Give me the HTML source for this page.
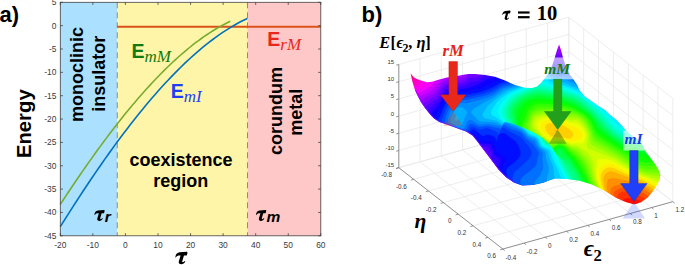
<!DOCTYPE html>
<html><head><meta charset="utf-8"><style>
html,body{margin:0;padding:0;background:#fff;overflow:hidden}
svg{display:block}
text{font-family:"Liberation Sans",sans-serif}
.sf{font-family:"Liberation Serif",serif}
</style></head><body>
<svg width="685" height="265" viewBox="0 0 685 265">
<rect width="685" height="265" fill="#fff"/>
<rect x="60.3" y="2.3" width="56.98" height="233.50" fill="#abe0fe"/>
<rect x="117.28" y="2.3" width="130.25" height="233.50" fill="#fff5a8"/>
<rect x="247.53" y="2.3" width="73.27" height="233.50" fill="#ffc8c8"/>
<line x1="117.28" y1="2.3" x2="117.28" y2="235.8" stroke="#8a8a8a" stroke-width="1" stroke-dasharray="6,4"/>
<line x1="247.53" y1="2.3" x2="247.53" y2="235.8" stroke="#8a8a8a" stroke-width="1" stroke-dasharray="6,4"/>
<line x1="117.28" y1="26.8" x2="320.8" y2="26.8" stroke="#d95319" stroke-width="2"/>
<path d="M60.30,204.36 L63.18,199.97 L66.06,195.61 L68.94,191.28 L71.82,186.98 L74.70,182.72 L77.58,178.48 L80.46,174.28 L83.34,170.12 L86.22,165.99 L89.10,161.90 L91.98,157.84 L94.86,153.82 L97.74,149.84 L100.62,145.90 L103.49,142.00 L106.37,138.14 L109.25,134.32 L112.13,130.54 L115.01,126.81 L117.89,123.12 L120.77,119.47 L123.65,115.87 L126.53,112.31 L129.41,108.81 L132.29,105.35 L135.17,101.93 L138.05,98.57 L140.93,95.25 L143.81,91.99 L146.69,88.78 L149.57,85.62 L152.45,82.51 L155.33,79.45 L158.21,76.45 L161.09,73.51 L163.97,70.62 L166.85,67.79 L169.73,65.01 L172.61,62.29 L175.49,59.63 L178.37,57.03 L181.25,54.50 L184.13,52.02 L187.01,49.60 L189.88,47.25 L192.76,44.96 L195.64,42.73 L198.52,40.57 L201.40,38.48 L204.28,36.45 L207.16,34.49 L210.04,32.59 L212.92,30.77 L215.80,29.01 L218.68,27.33 L221.56,25.71 L224.44,24.17 L227.32,22.70 L230.20,21.30" fill="none" stroke="#77ac30" stroke-width="1.6"/>
<path d="M60.30,226.65 L63.47,221.58 L66.64,216.56 L69.81,211.57 L72.98,206.62 L76.15,201.70 L79.32,196.83 L82.49,192.00 L85.66,187.21 L88.83,182.47 L91.99,177.76 L95.16,173.11 L98.33,168.49 L101.50,163.93 L104.67,159.41 L107.84,154.93 L111.01,150.51 L114.18,146.14 L117.35,141.81 L120.52,137.54 L123.69,133.32 L126.86,129.15 L130.03,125.04 L133.20,120.98 L136.37,116.97 L139.54,113.03 L142.71,109.14 L145.88,105.30 L149.05,101.53 L152.22,97.82 L155.38,94.16 L158.55,90.57 L161.72,87.04 L164.89,83.58 L168.06,80.18 L171.23,76.84 L174.40,73.57 L177.57,70.36 L180.74,67.22 L183.91,64.16 L187.08,61.16 L190.25,58.23 L193.42,55.37 L196.59,52.58 L199.76,49.86 L202.93,47.22 L206.10,44.65 L209.27,42.16 L212.44,39.75 L215.61,37.41 L218.77,35.14 L221.94,32.96 L225.11,30.86 L228.28,28.83 L231.45,26.89 L234.62,25.03 L237.79,23.25 L240.96,21.56 L244.13,19.95 L247.30,18.42" fill="none" stroke="#0072bd" stroke-width="1.6"/>
<rect x="60.3" y="2.3" width="260.50" height="233.50" fill="none" stroke="#404040" stroke-width="0.8"/>
<line x1="60.30" y1="235.8" x2="60.30" y2="233.20000000000002" stroke="#404040" stroke-width="0.8"/>
<line x1="60.30" y1="2.3" x2="60.30" y2="4.9" stroke="#404040" stroke-width="0.8"/>
<text x="60.30" y="248" font-size="8.4" text-anchor="middle" fill="#3a3a3a">-20</text>
<line x1="92.86" y1="235.8" x2="92.86" y2="233.20000000000002" stroke="#404040" stroke-width="0.8"/>
<line x1="92.86" y1="2.3" x2="92.86" y2="4.9" stroke="#404040" stroke-width="0.8"/>
<text x="92.86" y="248" font-size="8.4" text-anchor="middle" fill="#3a3a3a">-10</text>
<line x1="125.42" y1="235.8" x2="125.42" y2="233.20000000000002" stroke="#404040" stroke-width="0.8"/>
<line x1="125.42" y1="2.3" x2="125.42" y2="4.9" stroke="#404040" stroke-width="0.8"/>
<text x="125.42" y="248" font-size="8.4" text-anchor="middle" fill="#3a3a3a">0</text>
<line x1="157.99" y1="235.8" x2="157.99" y2="233.20000000000002" stroke="#404040" stroke-width="0.8"/>
<line x1="157.99" y1="2.3" x2="157.99" y2="4.9" stroke="#404040" stroke-width="0.8"/>
<text x="157.99" y="248" font-size="8.4" text-anchor="middle" fill="#3a3a3a">10</text>
<line x1="190.55" y1="235.8" x2="190.55" y2="233.20000000000002" stroke="#404040" stroke-width="0.8"/>
<line x1="190.55" y1="2.3" x2="190.55" y2="4.9" stroke="#404040" stroke-width="0.8"/>
<text x="190.55" y="248" font-size="8.4" text-anchor="middle" fill="#3a3a3a">20</text>
<line x1="223.11" y1="235.8" x2="223.11" y2="233.20000000000002" stroke="#404040" stroke-width="0.8"/>
<line x1="223.11" y1="2.3" x2="223.11" y2="4.9" stroke="#404040" stroke-width="0.8"/>
<text x="223.11" y="248" font-size="8.4" text-anchor="middle" fill="#3a3a3a">30</text>
<line x1="255.68" y1="235.8" x2="255.68" y2="233.20000000000002" stroke="#404040" stroke-width="0.8"/>
<line x1="255.68" y1="2.3" x2="255.68" y2="4.9" stroke="#404040" stroke-width="0.8"/>
<text x="255.68" y="248" font-size="8.4" text-anchor="middle" fill="#3a3a3a">40</text>
<line x1="288.24" y1="235.8" x2="288.24" y2="233.20000000000002" stroke="#404040" stroke-width="0.8"/>
<line x1="288.24" y1="2.3" x2="288.24" y2="4.9" stroke="#404040" stroke-width="0.8"/>
<text x="288.24" y="248" font-size="8.4" text-anchor="middle" fill="#3a3a3a">50</text>
<line x1="320.80" y1="235.8" x2="320.80" y2="233.20000000000002" stroke="#404040" stroke-width="0.8"/>
<line x1="320.80" y1="2.3" x2="320.80" y2="4.9" stroke="#404040" stroke-width="0.8"/>
<text x="320.80" y="248" font-size="8.4" text-anchor="middle" fill="#3a3a3a">60</text>
<line x1="60.3" y1="2.30" x2="62.9" y2="2.30" stroke="#404040" stroke-width="0.8"/>
<line x1="320.8" y1="2.30" x2="318.2" y2="2.30" stroke="#404040" stroke-width="0.8"/>
<text x="56.4" y="5.30" font-size="8.4" text-anchor="end" fill="#3a3a3a">5</text>
<line x1="60.3" y1="25.65" x2="62.9" y2="25.65" stroke="#404040" stroke-width="0.8"/>
<line x1="320.8" y1="25.65" x2="318.2" y2="25.65" stroke="#404040" stroke-width="0.8"/>
<text x="56.4" y="28.65" font-size="8.4" text-anchor="end" fill="#3a3a3a">0</text>
<line x1="60.3" y1="49.00" x2="62.9" y2="49.00" stroke="#404040" stroke-width="0.8"/>
<line x1="320.8" y1="49.00" x2="318.2" y2="49.00" stroke="#404040" stroke-width="0.8"/>
<text x="56.4" y="52.00" font-size="8.4" text-anchor="end" fill="#3a3a3a">-5</text>
<line x1="60.3" y1="72.35" x2="62.9" y2="72.35" stroke="#404040" stroke-width="0.8"/>
<line x1="320.8" y1="72.35" x2="318.2" y2="72.35" stroke="#404040" stroke-width="0.8"/>
<text x="56.4" y="75.35" font-size="8.4" text-anchor="end" fill="#3a3a3a">-10</text>
<line x1="60.3" y1="95.70" x2="62.9" y2="95.70" stroke="#404040" stroke-width="0.8"/>
<line x1="320.8" y1="95.70" x2="318.2" y2="95.70" stroke="#404040" stroke-width="0.8"/>
<text x="56.4" y="98.70" font-size="8.4" text-anchor="end" fill="#3a3a3a">-15</text>
<line x1="60.3" y1="119.05" x2="62.9" y2="119.05" stroke="#404040" stroke-width="0.8"/>
<line x1="320.8" y1="119.05" x2="318.2" y2="119.05" stroke="#404040" stroke-width="0.8"/>
<text x="56.4" y="122.05" font-size="8.4" text-anchor="end" fill="#3a3a3a">-20</text>
<line x1="60.3" y1="142.40" x2="62.9" y2="142.40" stroke="#404040" stroke-width="0.8"/>
<line x1="320.8" y1="142.40" x2="318.2" y2="142.40" stroke="#404040" stroke-width="0.8"/>
<text x="56.4" y="145.40" font-size="8.4" text-anchor="end" fill="#3a3a3a">-25</text>
<line x1="60.3" y1="165.75" x2="62.9" y2="165.75" stroke="#404040" stroke-width="0.8"/>
<line x1="320.8" y1="165.75" x2="318.2" y2="165.75" stroke="#404040" stroke-width="0.8"/>
<text x="56.4" y="168.75" font-size="8.4" text-anchor="end" fill="#3a3a3a">-30</text>
<line x1="60.3" y1="189.10" x2="62.9" y2="189.10" stroke="#404040" stroke-width="0.8"/>
<line x1="320.8" y1="189.10" x2="318.2" y2="189.10" stroke="#404040" stroke-width="0.8"/>
<text x="56.4" y="192.10" font-size="8.4" text-anchor="end" fill="#3a3a3a">-35</text>
<line x1="60.3" y1="212.45" x2="62.9" y2="212.45" stroke="#404040" stroke-width="0.8"/>
<line x1="320.8" y1="212.45" x2="318.2" y2="212.45" stroke="#404040" stroke-width="0.8"/>
<text x="56.4" y="215.45" font-size="8.4" text-anchor="end" fill="#3a3a3a">-40</text>
<line x1="60.3" y1="235.80" x2="62.9" y2="235.80" stroke="#404040" stroke-width="0.8"/>
<line x1="320.8" y1="235.80" x2="318.2" y2="235.80" stroke="#404040" stroke-width="0.8"/>
<text x="56.4" y="238.80" font-size="8.4" text-anchor="end" fill="#3a3a3a">-45</text>
<text x="-0.5" y="21.8" font-size="22" font-weight="bold">a)</text>
<text transform="translate(31,123.7) rotate(-90)" font-size="20.3" font-weight="bold" text-anchor="middle">Energy</text>
<text transform="translate(83.2,74.6) rotate(-90)" font-size="18" font-weight="bold" text-anchor="middle">monoclinic</text>
<text transform="translate(104.6,73.8) rotate(-90)" font-size="18" font-weight="bold" text-anchor="middle">insulator</text>
<text x="181" y="165.7" font-size="18" font-weight="bold" text-anchor="middle">coexistence</text>
<text x="180.8" y="187.2" font-size="18" font-weight="bold" text-anchor="middle">region</text>
<text transform="translate(282,111.1) rotate(-90)" font-size="18" font-weight="bold" text-anchor="middle">corundum</text>
<text transform="translate(301.8,112.2) rotate(-90)" font-size="18" font-weight="bold" text-anchor="middle">metal</text>
<text x="131.5" y="58.1" font-size="19.5" font-weight="bold" fill="#107a10">E<tspan class="sf" font-style="italic" font-weight="normal" font-size="17" dy="4">mM</tspan></text>
<text x="170.7" y="97.6" font-size="19.5" font-weight="bold" fill="#1f3ff5">E<tspan class="sf" font-style="italic" font-weight="normal" font-size="17" dy="4">mI</tspan></text>
<text x="267.3" y="46" font-size="19.5" font-weight="bold" fill="#e8261c">E<tspan class="sf" font-style="italic" font-weight="normal" font-size="17" dy="4">rM</tspan></text>
<path transform="translate(94.20,209.90) scale(0.8400,0.8800) translate(-175.1,-251.7)" d="M175.3,257.2 C175.6,254.5 177.0,252.6 179.5,252.3 L186.6,251.8 C187.4,251.8 187.6,252.4 187.4,253.2 L187.0,254.8 C186.9,255.4 186.5,255.6 185.9,255.6 L184.0,255.6 L182.3,261.0 C182.1,261.8 182.3,262.2 182.9,262.2 C183.6,262.2 184.2,261.7 184.7,261.0 L185.3,261.4 C184.4,263.2 183.0,264.2 181.3,264.2 C179.4,264.2 178.4,263.2 178.8,261.6 L180.6,255.6 L179.6,255.6 C177.8,255.6 176.6,256.2 175.9,257.6 Z" fill="#000"/>
<text x="104.8" y="222.4" font-style="italic" font-weight="bold" font-size="15.5">r</text>
<path transform="translate(255.80,209.90) scale(0.8400,0.8800) translate(-175.1,-251.7)" d="M175.3,257.2 C175.6,254.5 177.0,252.6 179.5,252.3 L186.6,251.8 C187.4,251.8 187.6,252.4 187.4,253.2 L187.0,254.8 C186.9,255.4 186.5,255.6 185.9,255.6 L184.0,255.6 L182.3,261.0 C182.1,261.8 182.3,262.2 182.9,262.2 C183.6,262.2 184.2,261.7 184.7,261.0 L185.3,261.4 C184.4,263.2 183.0,264.2 181.3,264.2 C179.4,264.2 178.4,263.2 178.8,261.6 L180.6,255.6 L179.6,255.6 C177.8,255.6 176.6,256.2 175.9,257.6 Z" fill="#000"/>
<text x="266.4" y="222.4" font-style="italic" font-weight="bold" font-size="15.5">m</text>
<path transform="translate(175.10,251.70) scale(1.0000,1.0000) translate(-175.1,-251.7)" d="M175.3,257.2 C175.6,254.5 177.0,252.6 179.5,252.3 L186.6,251.8 C187.4,251.8 187.6,252.4 187.4,253.2 L187.0,254.8 C186.9,255.4 186.5,255.6 185.9,255.6 L184.0,255.6 L182.3,261.0 C182.1,261.8 182.3,262.2 182.9,262.2 C183.6,262.2 184.2,261.7 184.7,261.0 L185.3,261.4 C184.4,263.2 183.0,264.2 181.3,264.2 C179.4,264.2 178.4,263.2 178.8,261.6 L180.6,255.6 L179.6,255.6 C177.8,255.6 176.6,256.2 175.9,257.6 Z" fill="#000"/>
<line x1="398.80" y1="167.70" x2="502.82" y2="249.04" stroke="#e8e8e8" stroke-width="0.8"/>
<line x1="420.05" y1="161.78" x2="524.07" y2="243.12" stroke="#e8e8e8" stroke-width="0.8"/>
<line x1="441.30" y1="155.86" x2="545.32" y2="237.20" stroke="#e8e8e8" stroke-width="0.8"/>
<line x1="462.55" y1="149.94" x2="566.57" y2="231.28" stroke="#e8e8e8" stroke-width="0.8"/>
<line x1="483.80" y1="144.02" x2="587.82" y2="225.36" stroke="#e8e8e8" stroke-width="0.8"/>
<line x1="505.05" y1="138.10" x2="609.07" y2="219.44" stroke="#e8e8e8" stroke-width="0.8"/>
<line x1="526.30" y1="132.18" x2="630.32" y2="213.52" stroke="#e8e8e8" stroke-width="0.8"/>
<line x1="547.55" y1="126.26" x2="651.57" y2="207.60" stroke="#e8e8e8" stroke-width="0.8"/>
<line x1="568.80" y1="120.34" x2="672.82" y2="201.68" stroke="#e8e8e8" stroke-width="0.8"/>
<line x1="398.80" y1="167.70" x2="568.80" y2="120.34" stroke="#e8e8e8" stroke-width="0.8"/>
<line x1="413.66" y1="179.32" x2="583.66" y2="131.96" stroke="#e8e8e8" stroke-width="0.8"/>
<line x1="428.52" y1="190.94" x2="598.52" y2="143.58" stroke="#e8e8e8" stroke-width="0.8"/>
<line x1="443.38" y1="202.56" x2="613.38" y2="155.20" stroke="#e8e8e8" stroke-width="0.8"/>
<line x1="458.24" y1="214.18" x2="628.24" y2="166.82" stroke="#e8e8e8" stroke-width="0.8"/>
<line x1="473.10" y1="225.80" x2="643.10" y2="178.44" stroke="#e8e8e8" stroke-width="0.8"/>
<line x1="487.96" y1="237.42" x2="657.96" y2="190.06" stroke="#e8e8e8" stroke-width="0.8"/>
<line x1="502.82" y1="249.04" x2="672.82" y2="201.68" stroke="#e8e8e8" stroke-width="0.8"/>
<line x1="398.80" y1="167.70" x2="398.80" y2="64.50" stroke="#e8e8e8" stroke-width="0.8"/>
<line x1="420.05" y1="161.78" x2="420.05" y2="58.58" stroke="#e8e8e8" stroke-width="0.8"/>
<line x1="441.30" y1="155.86" x2="441.30" y2="52.66" stroke="#e8e8e8" stroke-width="0.8"/>
<line x1="462.55" y1="149.94" x2="462.55" y2="46.74" stroke="#e8e8e8" stroke-width="0.8"/>
<line x1="483.80" y1="144.02" x2="483.80" y2="40.82" stroke="#e8e8e8" stroke-width="0.8"/>
<line x1="505.05" y1="138.10" x2="505.05" y2="34.90" stroke="#e8e8e8" stroke-width="0.8"/>
<line x1="526.30" y1="132.18" x2="526.30" y2="28.98" stroke="#e8e8e8" stroke-width="0.8"/>
<line x1="547.55" y1="126.26" x2="547.55" y2="23.06" stroke="#e8e8e8" stroke-width="0.8"/>
<line x1="568.80" y1="120.34" x2="568.80" y2="17.14" stroke="#e8e8e8" stroke-width="0.8"/>
<line x1="398.80" y1="167.70" x2="568.80" y2="120.34" stroke="#e8e8e8" stroke-width="0.8"/>
<line x1="398.80" y1="150.50" x2="568.80" y2="103.14" stroke="#e8e8e8" stroke-width="0.8"/>
<line x1="398.80" y1="133.30" x2="568.80" y2="85.94" stroke="#e8e8e8" stroke-width="0.8"/>
<line x1="398.80" y1="116.10" x2="568.80" y2="68.74" stroke="#e8e8e8" stroke-width="0.8"/>
<line x1="398.80" y1="98.90" x2="568.80" y2="51.54" stroke="#e8e8e8" stroke-width="0.8"/>
<line x1="398.80" y1="81.70" x2="568.80" y2="34.34" stroke="#e8e8e8" stroke-width="0.8"/>
<line x1="398.80" y1="64.50" x2="568.80" y2="17.14" stroke="#e8e8e8" stroke-width="0.8"/>
<line x1="568.80" y1="120.34" x2="568.80" y2="17.14" stroke="#e8e8e8" stroke-width="0.8"/>
<line x1="583.66" y1="131.96" x2="583.66" y2="28.76" stroke="#e8e8e8" stroke-width="0.8"/>
<line x1="598.52" y1="143.58" x2="598.52" y2="40.38" stroke="#e8e8e8" stroke-width="0.8"/>
<line x1="613.38" y1="155.20" x2="613.38" y2="52.00" stroke="#e8e8e8" stroke-width="0.8"/>
<line x1="628.24" y1="166.82" x2="628.24" y2="63.62" stroke="#e8e8e8" stroke-width="0.8"/>
<line x1="643.10" y1="178.44" x2="643.10" y2="75.24" stroke="#e8e8e8" stroke-width="0.8"/>
<line x1="657.96" y1="190.06" x2="657.96" y2="86.86" stroke="#e8e8e8" stroke-width="0.8"/>
<line x1="672.82" y1="201.68" x2="672.82" y2="98.48" stroke="#e8e8e8" stroke-width="0.8"/>
<line x1="568.80" y1="120.34" x2="672.82" y2="201.68" stroke="#e8e8e8" stroke-width="0.8"/>
<line x1="568.80" y1="103.14" x2="672.82" y2="184.48" stroke="#e8e8e8" stroke-width="0.8"/>
<line x1="568.80" y1="85.94" x2="672.82" y2="167.28" stroke="#e8e8e8" stroke-width="0.8"/>
<line x1="568.80" y1="68.74" x2="672.82" y2="150.08" stroke="#e8e8e8" stroke-width="0.8"/>
<line x1="568.80" y1="51.54" x2="672.82" y2="132.88" stroke="#e8e8e8" stroke-width="0.8"/>
<line x1="568.80" y1="34.34" x2="672.82" y2="115.68" stroke="#e8e8e8" stroke-width="0.8"/>
<line x1="568.80" y1="17.14" x2="672.82" y2="98.48" stroke="#e8e8e8" stroke-width="0.8"/>
<line x1="398.80" y1="167.70" x2="398.80" y2="64.50" stroke="#6a6a6a" stroke-width="0.7"/>
<line x1="398.80" y1="167.70" x2="502.82" y2="249.04" stroke="#6a6a6a" stroke-width="0.7"/>
<line x1="502.82" y1="249.04" x2="672.82" y2="201.68" stroke="#6a6a6a" stroke-width="0.7"/>
<line x1="398.80" y1="167.70" x2="396.20" y2="168.40" stroke="#6a6a6a" stroke-width="0.7"/>
<text x="394.20" y="167.10" font-size="6" text-anchor="end" fill="#333">-15</text>
<line x1="398.80" y1="150.50" x2="396.20" y2="151.20" stroke="#6a6a6a" stroke-width="0.7"/>
<text x="394.20" y="149.90" font-size="6" text-anchor="end" fill="#333">-10</text>
<line x1="398.80" y1="133.30" x2="396.20" y2="134.00" stroke="#6a6a6a" stroke-width="0.7"/>
<text x="394.20" y="132.70" font-size="6" text-anchor="end" fill="#333">-5</text>
<line x1="398.80" y1="116.10" x2="396.20" y2="116.80" stroke="#6a6a6a" stroke-width="0.7"/>
<text x="394.20" y="115.50" font-size="6" text-anchor="end" fill="#333">0</text>
<line x1="398.80" y1="98.90" x2="396.20" y2="99.60" stroke="#6a6a6a" stroke-width="0.7"/>
<text x="394.20" y="98.30" font-size="6" text-anchor="end" fill="#333">5</text>
<line x1="398.80" y1="81.70" x2="396.20" y2="82.40" stroke="#6a6a6a" stroke-width="0.7"/>
<text x="394.20" y="81.10" font-size="6" text-anchor="end" fill="#333">10</text>
<line x1="398.80" y1="64.50" x2="396.20" y2="65.20" stroke="#6a6a6a" stroke-width="0.7"/>
<text x="394.20" y="63.90" font-size="6" text-anchor="end" fill="#333">15</text>
<line x1="398.80" y1="167.70" x2="396.10" y2="168.45" stroke="#6a6a6a" stroke-width="0.7"/>
<text x="392.00" y="177.00" font-size="6.3" text-anchor="end" fill="#333">-0.8</text>
<line x1="413.66" y1="179.32" x2="410.96" y2="180.07" stroke="#6a6a6a" stroke-width="0.7"/>
<text x="406.86" y="188.62" font-size="6.3" text-anchor="end" fill="#333">-0.6</text>
<line x1="428.52" y1="190.94" x2="425.82" y2="191.69" stroke="#6a6a6a" stroke-width="0.7"/>
<text x="421.72" y="200.24" font-size="6.3" text-anchor="end" fill="#333">-0.4</text>
<line x1="443.38" y1="202.56" x2="440.68" y2="203.31" stroke="#6a6a6a" stroke-width="0.7"/>
<text x="436.58" y="211.86" font-size="6.3" text-anchor="end" fill="#333">-0.2</text>
<line x1="458.24" y1="214.18" x2="455.54" y2="214.93" stroke="#6a6a6a" stroke-width="0.7"/>
<text x="451.44" y="223.48" font-size="6.3" text-anchor="end" fill="#333">0</text>
<line x1="473.10" y1="225.80" x2="470.40" y2="226.55" stroke="#6a6a6a" stroke-width="0.7"/>
<text x="466.30" y="235.10" font-size="6.3" text-anchor="end" fill="#333">0.2</text>
<line x1="487.96" y1="237.42" x2="485.26" y2="238.17" stroke="#6a6a6a" stroke-width="0.7"/>
<text x="481.16" y="246.72" font-size="6.3" text-anchor="end" fill="#333">0.4</text>
<line x1="502.82" y1="249.04" x2="500.12" y2="249.79" stroke="#6a6a6a" stroke-width="0.7"/>
<text x="496.02" y="258.34" font-size="6.3" text-anchor="end" fill="#333">0.6</text>
<line x1="502.82" y1="249.04" x2="504.72" y2="250.54" stroke="#6a6a6a" stroke-width="0.7"/>
<text x="505.42" y="259.84" font-size="6.3" text-anchor="start" fill="#333">-0.4</text>
<line x1="524.07" y1="243.12" x2="525.97" y2="244.62" stroke="#6a6a6a" stroke-width="0.7"/>
<text x="526.67" y="253.92" font-size="6.3" text-anchor="start" fill="#333">-0.2</text>
<line x1="545.32" y1="237.20" x2="547.22" y2="238.70" stroke="#6a6a6a" stroke-width="0.7"/>
<text x="547.92" y="248.00" font-size="6.3" text-anchor="start" fill="#333">0</text>
<line x1="566.57" y1="231.28" x2="568.47" y2="232.78" stroke="#6a6a6a" stroke-width="0.7"/>
<text x="569.17" y="242.08" font-size="6.3" text-anchor="start" fill="#333">0.2</text>
<line x1="587.82" y1="225.36" x2="589.72" y2="226.86" stroke="#6a6a6a" stroke-width="0.7"/>
<text x="590.42" y="236.16" font-size="6.3" text-anchor="start" fill="#333">0.4</text>
<line x1="609.07" y1="219.44" x2="610.97" y2="220.94" stroke="#6a6a6a" stroke-width="0.7"/>
<text x="611.67" y="230.24" font-size="6.3" text-anchor="start" fill="#333">0.6</text>
<line x1="630.32" y1="213.52" x2="632.22" y2="215.02" stroke="#6a6a6a" stroke-width="0.7"/>
<text x="632.92" y="224.32" font-size="6.3" text-anchor="start" fill="#333">0.8</text>
<line x1="651.57" y1="207.60" x2="653.47" y2="209.10" stroke="#6a6a6a" stroke-width="0.7"/>
<text x="654.17" y="218.40" font-size="6.3" text-anchor="start" fill="#333">1</text>
<line x1="672.82" y1="201.68" x2="674.72" y2="203.18" stroke="#6a6a6a" stroke-width="0.7"/>
<text x="675.42" y="212.48" font-size="6.3" text-anchor="start" fill="#333">1.2</text>
<defs><clipPath id="sc"><path d="M410.6,73.6 414.0,77.5 418.0,79.6 423.5,81.2 427.0,82.2 432.0,81.8 439.3,79.5 447.0,77.5 455.0,76.5 462.0,75.0 468.3,74.0 475.0,73.9 485.0,75.0 495.0,76.8 505.0,80.6 515.0,85.0 525.0,87.7 532.0,88.0 537.0,86.5 541.0,83.0 544.1,79.0 547.3,75.0 550.0,70.0 552.4,65.0 554.9,57.0 557.0,50.0 559.1,44.6 561.0,50.0 562.8,57.0 565.3,65.0 570.0,75.0 573.2,79.0 577.3,85.0 579.4,90.0 584.9,96.5 590.0,100.0 597.4,105.3 605.0,110.0 609.8,114.5 616.6,120.0 622.3,126.0 625.5,130.0 632.6,136.5 637.0,139.0 641.6,143.5 646.1,152.2 650.7,158.2 655.2,164.3 658.8,170.3 660.3,174.8 659.7,179.4 656.7,185.4 652.8,191.5 647.7,197.5 641.6,202.0 636.0,204.0 633.5,204.3 626.2,202.2 616.3,197.9 604.1,190.5 597.0,187.0 591.8,184.6 579.5,180.7 567.3,179.1 555.0,178.5 549.0,180.5 543.3,182.8 532.8,184.9 522.2,185.4 514.3,182.8 506.4,177.5 498.5,169.6 490.6,159.0 482.6,148.5 477.0,141.0 472.5,135.5 466.0,131.5 460.4,129.5 448.3,125.0 439.3,121.9 434.0,118.5 430.2,114.4 425.0,108.0 421.0,102.3 417.5,95.5 415.0,90.2 412.5,82.0Z"/></clipPath><clipPath id="lc"><path d="M490.6,159.0 494.0,148.0 498.0,136.0 503.0,124.0 505.0,121.7 514.4,124.2 523.9,127.9 533.3,132.3 542.7,137.9 550.3,144.9 555.9,153.4 562.0,160.0 568.0,168.0 574.0,176.0 578.0,181.0 567.3,179.1 555.0,178.5 549.0,180.5 543.3,182.8 532.8,184.9 522.2,185.4 514.3,182.8 506.4,177.5 498.5,169.6Z"/></clipPath><filter id="sb" x="-5%" y="-5%" width="110%" height="110%"><feGaussianBlur stdDeviation="0.6"/></filter></defs><g clip-path="url(#sc)"><g filter="url(#sb)"><path fill-rule="evenodd" fill="#ff1000" d="M559.2,42.8 561.2,44.8 563.2,50.8 564.8,58.2 567.8,66.8 571.8,75.2 574.5,78.2 579.2,84.8 581.5,90.5 585.5,95.2 598.8,104.5 605.2,108.2 609.8,112.8 615.5,117.2 623.5,125.2 627.2,129.8 632.8,134.8 637.2,137.2 643.5,143.5 647.8,152.2 656.8,163.8 660.5,169.8 662.2,174.5 661.8,178.2 658.2,186.2 654.5,191.8 650.8,196.2 647.2,199.8 642.2,203.5 634.5,206.2 633.2,206.2 626.2,204.2 615.2,199.2 605.2,192.8 595.2,187.8 585.2,184.2 577.8,182.2 567.5,180.8 554.2,180.5 542.8,184.8 532.8,186.8 527.2,186.8 526.8,187.2 521.5,187.2 514.5,184.8 506.5,179.5 496.5,169.5 471.8,136.8 465.8,133.2 446.8,126.2 440.2,124.2 434.2,120.5 430.2,116.5 423.2,108.2 419.2,102.5 415.5,95.5 412.5,88.5 408.8,74.5 410.8,72.2 414.8,76.2 417.8,77.8 427.2,80.5 432.8,79.8 436.2,78.5 447.2,75.5 454.8,74.8 467.5,72.2 477.2,72.2 485.8,73.2 494.8,74.8 505.5,78.8 514.8,83.2 524.5,85.8 532.5,86.2 536.8,84.8 540.2,81.8 542.8,78.5 547.5,71.5 550.8,64.5 556.5,46.2 557.2,44.8 559.2,42.8Z"/>
<path fill-rule="evenodd" fill="#ff3000" d="M559.2,42.8 561.2,44.8 563.2,50.8 564.8,58.2 567.8,66.8 571.8,75.2 574.5,78.2 579.2,84.8 581.5,90.5 585.5,95.2 598.8,104.5 605.2,108.2 609.8,112.8 615.5,117.2 623.5,125.2 627.2,129.8 632.8,134.8 637.2,137.2 643.5,143.5 647.8,152.2 656.8,163.8 660.5,169.8 662.2,174.5 661.8,178.2 658.2,186.2 654.5,191.8 650.8,196.2 647.2,199.8 643.5,202.5 637.2,199.6 628.2,197.9 625.8,198.2 624.2,199.0 622.9,200.5 622.3,202.3 615.2,199.2 605.2,192.8 595.2,187.8 585.2,184.2 577.8,182.2 567.5,180.8 554.2,180.5 542.8,184.8 532.8,186.8 527.2,186.8 526.8,187.2 521.5,187.2 514.5,184.8 506.5,179.5 496.5,169.5 471.8,136.8 465.8,133.2 438.2,123.2 434.2,120.5 430.2,116.5 423.2,108.2 419.2,102.5 413.2,90.5 410.5,81.8 408.8,74.2 410.8,72.2 414.8,76.2 417.8,77.8 427.2,80.5 432.8,79.8 436.2,78.5 447.2,75.5 454.8,74.8 467.5,72.2 477.2,72.2 483.2,72.8 494.8,74.8 505.5,78.8 514.8,83.2 521.8,85.2 524.5,85.8 532.5,86.2 536.8,84.8 538.5,83.5 545.8,74.5 550.8,64.5 556.5,46.2 557.2,44.8 559.2,42.8Z"/>
<path fill-rule="evenodd" fill="#ff5000" d="M559.2,42.8 561.2,44.8 563.2,50.8 564.8,58.2 567.8,66.8 571.8,75.2 574.5,78.2 579.2,84.8 581.5,90.5 585.5,95.2 598.8,104.5 605.2,108.2 609.8,112.8 615.5,117.2 623.5,125.2 627.2,129.8 632.8,134.8 637.2,137.2 643.5,143.5 647.8,152.2 656.8,163.8 660.5,169.8 662.2,174.5 661.5,179.5 658.2,186.2 654.5,191.8 647.3,199.7 641.2,196.4 628.8,192.5 624.2,191.6 621.2,192.1 618.7,193.8 617.5,195.8 616.9,199.9 616.5,199.8 605.2,192.8 592.2,186.5 579.8,182.5 567.5,180.8 554.2,180.5 542.8,184.8 532.8,186.8 521.5,187.2 514.5,184.8 506.5,179.5 496.5,169.5 471.8,136.8 465.8,133.2 438.2,123.2 434.2,120.5 430.2,116.5 423.2,108.2 419.2,102.5 413.2,90.5 410.5,81.8 408.8,74.2 410.8,72.2 414.8,76.2 417.8,77.8 427.2,80.5 432.8,79.8 436.2,78.5 447.2,75.5 454.8,74.8 467.5,72.2 477.2,72.2 483.2,72.8 494.8,74.8 505.5,78.8 514.8,83.2 521.8,85.2 524.5,85.8 532.5,86.2 536.8,84.8 538.5,83.5 545.8,74.5 550.8,64.5 556.5,46.2 557.2,44.8 559.2,42.8Z"/>
<path fill-rule="evenodd" fill="#ff7000" d="M559.2,42.8 561.2,44.8 563.2,50.8 564.8,58.2 567.8,66.8 571.8,75.2 574.5,78.2 579.2,84.8 581.5,90.5 585.5,95.2 598.8,104.5 605.2,108.2 609.8,112.8 615.5,117.2 623.5,125.2 627.2,129.8 632.8,134.8 637.2,137.2 643.5,143.5 647.8,152.2 656.8,163.8 660.5,169.8 662.2,174.5 661.5,179.5 656.5,188.8 654.5,191.8 649.8,197.2 646.2,194.5 643.5,193.1 627.5,188.0 623.5,187.4 619.2,188.5 614.9,191.2 613.7,193.5 613.4,198.1 605.2,192.8 592.2,186.5 579.8,182.5 567.5,180.8 554.2,180.5 542.8,184.8 532.8,186.8 521.5,187.2 514.5,184.8 506.5,179.5 496.5,169.5 471.8,136.8 465.8,133.2 438.2,123.2 434.2,120.5 430.2,116.5 423.2,108.2 419.2,102.5 413.2,90.5 410.5,81.8 408.8,74.2 410.8,72.2 414.8,76.2 417.8,77.8 427.2,80.5 432.8,79.8 436.2,78.5 447.2,75.5 454.8,74.8 467.5,72.2 477.2,72.2 483.2,72.8 494.8,74.8 505.5,78.8 514.8,83.2 521.8,85.2 524.5,85.8 532.5,86.2 536.8,84.8 538.5,83.5 545.8,74.5 550.8,64.5 556.5,46.2 557.2,44.8 559.2,42.8Z"/>
<path fill-rule="evenodd" fill="#ff8f00" d="M559.2,42.8 561.2,44.8 563.2,50.8 564.8,58.2 567.8,66.8 571.8,75.2 574.5,78.2 579.2,84.8 581.5,90.5 585.5,95.2 598.8,104.5 605.2,108.2 609.8,112.8 615.5,117.2 623.5,125.2 626.8,129.5 631.2,133.5 633.8,135.5 637.2,137.2 643.5,143.5 647.8,152.2 657.5,164.8 660.8,170.5 662.2,174.5 661.8,178.2 658.2,186.2 654.5,191.8 651.8,194.8 646.8,191.0 644.2,189.5 628.2,184.4 624.5,183.6 619.2,184.4 613.8,186.3 611.5,187.7 610.6,188.8 610.2,190.5 610.7,196.4 605.2,192.8 592.2,186.5 579.8,182.5 567.5,180.8 554.2,180.5 542.8,184.8 532.8,186.8 521.5,187.2 514.5,184.8 506.5,179.5 496.5,169.5 471.8,136.8 465.8,133.2 438.2,123.2 434.2,120.5 430.2,116.5 423.2,108.2 419.2,102.5 413.2,90.5 410.5,81.8 408.8,74.2 410.8,72.2 414.8,76.2 417.8,77.8 427.2,80.5 432.8,79.8 436.2,78.5 447.2,75.5 454.8,74.8 467.5,72.2 477.2,72.2 483.2,72.8 494.8,74.8 505.5,78.8 514.8,83.2 521.8,85.2 524.5,85.8 532.5,86.2 536.8,84.8 538.5,83.5 545.8,74.5 550.8,64.5 556.5,46.2 557.2,44.8 559.2,42.8Z"/>
<path fill-rule="evenodd" fill="#ffaf00" d="M559.2,42.8 561.2,44.8 563.2,50.8 564.8,58.2 567.8,66.8 571.8,75.2 574.5,78.2 579.2,84.8 581.5,90.5 585.5,95.2 598.8,104.5 605.2,108.2 609.8,112.8 615.5,117.2 623.5,125.2 626.8,129.5 631.2,133.5 633.8,135.5 637.2,137.2 643.5,143.5 647.8,152.2 657.5,164.8 660.8,170.5 662.2,174.5 661.8,178.2 658.2,186.2 653.7,192.7 646.5,187.5 642.5,185.6 626.2,180.2 613.8,178.2 609.5,178.6 608.1,179.5 607.1,181.2 606.5,187.2 608.3,195.0 605.2,192.8 592.2,186.5 579.8,182.5 567.5,180.8 554.2,180.5 542.8,184.8 532.8,186.8 521.5,187.2 514.5,184.8 506.5,179.5 496.5,169.5 471.8,136.8 465.8,133.2 438.2,123.2 434.2,120.5 430.2,116.5 423.2,108.2 419.2,102.5 413.2,90.5 410.5,81.8 408.8,74.2 410.8,72.2 414.8,76.2 417.8,77.8 427.2,80.5 432.8,79.8 436.2,78.5 447.2,75.5 454.8,74.8 467.5,72.2 477.2,72.2 483.2,72.8 494.8,74.8 505.5,78.8 514.8,83.2 521.8,85.2 524.5,85.8 532.5,86.2 536.8,84.8 538.5,83.5 545.8,74.5 550.8,64.5 556.5,46.2 557.2,44.8 559.2,42.8Z"/>
<path fill-rule="evenodd" fill="#ffcf00" d="M559.2,42.8 561.2,44.8 563.2,50.8 564.8,58.2 567.8,66.8 571.8,75.2 574.5,78.2 579.2,84.8 581.5,90.5 585.5,95.2 598.8,104.5 605.2,108.2 609.8,112.8 615.5,117.2 623.5,125.2 626.8,129.5 631.2,133.5 633.8,135.5 637.2,137.2 643.5,143.5 647.8,152.2 657.5,164.8 660.8,170.5 662.2,175.5 661.5,179.5 658.2,186.2 655.3,190.4 646.5,184.7 642.8,182.8 614.2,172.1 610.8,171.3 608.5,171.8 606.2,173.2 604.4,175.2 603.4,177.5 603.3,180.2 604.2,186.5 606.0,193.5 595.2,187.8 585.2,184.2 579.8,182.5 567.5,180.8 554.2,180.5 542.8,184.8 532.8,186.8 521.5,187.2 514.5,184.8 506.5,179.5 496.5,169.5 471.8,136.8 465.8,133.2 438.2,123.2 434.2,120.5 430.2,116.5 423.2,108.2 419.2,102.5 413.2,90.5 410.5,81.8 408.8,74.2 410.8,72.2 414.8,76.2 417.8,77.8 427.2,80.5 432.8,79.8 436.2,78.5 447.2,75.5 454.8,74.8 467.5,72.2 477.2,72.2 483.2,72.8 494.8,74.8 505.5,78.8 514.8,83.2 521.8,85.2 524.5,85.8 532.5,86.2 536.8,84.8 538.5,83.5 545.8,74.5 550.8,64.5 556.5,46.2 557.2,44.8 559.2,42.8ZM554.8,130.2 554.3,130.8 555.2,131.8 556.8,132.1 558.1,131.8 557.9,131.2 557.0,130.5 554.8,130.2Z"/>
<path fill-rule="evenodd" fill="#ffef00" d="M559.2,42.8 561.2,44.8 563.2,50.8 564.8,58.2 567.8,66.8 571.8,75.2 574.5,78.2 579.2,84.8 581.5,90.5 585.5,95.2 598.8,104.5 605.2,108.2 609.8,112.8 615.5,117.2 623.5,125.2 627.2,129.8 632.8,134.8 637.2,137.2 643.5,143.5 647.8,152.2 657.5,164.8 660.8,170.5 662.2,174.5 661.5,179.5 656.8,188.0 643.7,180.8 624.8,173.4 613.5,168.1 610.2,167.3 607.4,167.8 604.1,169.8 601.9,172.2 600.7,174.8 600.7,179.5 604.1,192.4 592.2,186.5 585.2,184.2 579.8,182.5 567.5,180.8 554.2,180.5 542.8,184.8 532.8,186.8 521.5,187.2 514.5,184.8 506.5,179.5 496.5,169.5 471.8,136.8 465.8,133.2 438.2,123.2 434.2,120.5 430.2,116.5 423.2,108.2 419.2,102.5 413.2,90.5 410.5,81.8 408.8,74.2 410.8,72.2 414.8,76.2 417.8,77.8 427.2,80.5 432.8,79.8 436.2,78.5 447.2,75.5 454.8,74.8 467.5,72.2 477.2,72.2 483.2,72.8 494.8,74.8 505.5,78.8 514.8,83.2 521.8,85.2 524.5,85.8 532.5,86.2 536.8,84.8 538.5,83.5 545.8,74.5 550.8,64.5 556.5,46.2 557.2,44.8 559.2,42.8ZM549.3,123.2 547.5,123.7 546.1,124.8 545.3,126.2 545.1,127.8 546.8,132.2 550.2,135.6 553.2,136.7 563.2,137.5 569.5,138.7 571.2,138.4 572.3,137.2 573.2,134.5 572.6,132.2 570.6,130.2 565.5,126.8 562.4,125.2 558.5,124.0 552.8,123.1 549.3,123.2Z"/>
<path fill-rule="evenodd" fill="#efff00" d="M559.2,42.8 561.2,44.8 563.2,50.8 564.8,58.2 567.8,66.8 571.8,75.2 574.5,78.2 579.2,84.8 581.5,90.5 585.5,95.2 598.8,104.5 605.2,108.2 609.8,112.8 615.5,117.2 623.5,125.2 627.2,129.8 632.8,134.8 637.2,137.2 643.5,143.5 647.8,152.2 656.8,163.8 660.8,170.5 662.2,174.5 661.8,178.2 658.4,185.6 654.2,184.0 646.3,179.8 626.6,171.5 613.2,164.6 609.2,163.6 605.8,164.2 602.2,166.2 599.9,168.5 598.7,171.5 598.2,175.2 598.4,178.5 602.4,191.5 592.2,186.5 579.8,182.5 567.5,180.8 554.2,180.5 542.8,184.8 532.8,186.8 521.5,187.2 514.5,184.8 506.5,179.5 496.5,169.5 471.8,136.8 465.8,133.2 438.2,123.2 434.2,120.5 430.2,116.5 423.2,108.2 419.2,102.5 413.2,90.5 410.5,81.8 408.8,74.2 410.8,72.2 414.8,76.2 417.8,77.8 427.2,80.5 432.8,79.8 436.2,78.5 447.2,75.5 454.8,74.8 467.5,72.2 477.2,72.2 483.2,72.8 494.8,74.8 505.5,78.8 514.8,83.2 521.8,85.2 524.5,85.8 532.5,86.2 536.8,84.8 538.5,83.5 545.8,74.5 550.8,64.5 556.5,46.2 557.2,44.8 559.2,42.8ZM547.4,120.2 544.5,121.0 542.2,122.5 540.7,124.5 540.4,126.5 541.2,129.2 543.5,132.9 546.4,135.8 549.6,138.2 552.5,139.0 563.2,139.1 571.5,141.8 576.5,140.0 580.2,139.3 581.9,137.8 582.5,135.5 581.7,132.8 579.4,129.5 576.5,127.3 570.2,125.4 564.5,122.3 561.8,121.3 552.8,120.0 547.4,120.2Z"/>
<path fill-rule="evenodd" fill="#cfff00" d="M559.2,42.8 561.2,44.8 563.2,50.8 564.8,58.2 567.8,66.8 571.8,75.2 574.5,78.2 579.2,84.8 581.5,90.5 585.5,95.2 598.8,104.5 605.2,108.2 609.8,112.8 615.5,117.2 623.5,125.2 627.2,129.8 632.8,134.8 637.2,137.2 643.5,143.5 647.8,152.2 656.8,163.8 660.8,170.5 662.2,175.5 661.5,179.5 659.7,183.0 655.2,181.6 631.4,171.5 611.5,160.5 606.8,159.2 601.2,158.7 598.7,159.2 597.5,160.5 596.1,172.2 596.7,178.8 599.6,186.2 600.9,190.8 592.2,186.5 579.8,182.5 567.5,180.8 561.8,180.8 561.5,180.5 554.2,180.5 542.8,184.8 532.8,186.8 521.5,187.2 514.5,184.8 506.5,179.5 496.5,169.5 471.8,136.8 465.8,133.2 438.2,123.2 434.2,120.5 430.8,117.2 423.2,108.2 419.2,102.5 413.2,90.5 410.5,81.8 408.8,74.5 410.8,72.2 414.8,76.2 417.8,77.8 427.2,80.5 432.8,79.8 436.2,78.5 447.2,75.5 454.8,74.8 467.5,72.2 477.2,72.2 483.2,72.8 494.8,74.8 505.5,78.8 514.8,83.2 521.8,85.2 524.5,85.8 532.5,86.2 536.8,84.8 538.5,83.5 545.8,74.5 550.8,64.5 556.5,46.2 557.2,44.8 559.2,42.8ZM546.4,117.8 542.3,118.8 538.8,120.6 537.0,122.5 536.4,125.2 537.4,128.2 541.2,133.2 543.8,136.0 547.8,139.2 549.8,140.3 551.8,140.7 559.2,140.1 563.2,140.3 571.8,143.8 577.2,143.1 581.8,143.9 583.5,142.8 585.4,137.8 585.5,133.8 582.5,128.3 578.7,124.5 575.8,123.2 570.2,122.8 564.5,119.6 561.5,118.6 552.8,117.6 546.4,117.8Z"/>
<path fill-rule="evenodd" fill="#afff00" d="M559.2,42.8 561.2,44.8 563.2,50.8 564.8,58.2 567.8,66.8 571.8,75.2 574.5,78.2 579.2,84.8 581.5,90.5 585.5,95.2 598.8,104.5 605.2,108.2 609.8,112.8 615.5,117.2 623.5,125.2 627.2,129.8 632.8,134.8 637.2,137.2 643.5,143.5 647.8,152.2 656.8,163.8 660.8,170.5 662.2,174.5 661.8,178.2 661.2,180.1 646.2,175.9 640.8,173.9 628.8,168.1 618.2,161.0 612.2,157.8 588.8,148.8 587.5,147.3 586.8,144.8 587.7,136.2 586.9,132.2 582.8,125.1 578.2,121.0 575.8,120.1 570.2,120.4 564.5,117.2 561.2,116.2 554.8,115.5 548.8,115.5 541.2,116.6 537.8,117.8 535.6,119.2 534.2,121.2 533.4,123.8 533.6,126.5 534.5,128.5 542.5,136.7 549.2,141.7 551.5,142.2 558.8,141.1 563.5,141.5 571.2,145.3 577.8,146.0 582.2,149.3 587.1,151.8 590.7,157.2 593.0,162.2 594.9,178.2 599.5,190.1 592.2,186.5 579.8,182.5 567.5,180.8 561.8,180.8 561.5,180.5 554.2,180.5 542.8,184.8 532.8,186.8 521.5,187.2 514.5,184.8 506.5,179.5 496.5,169.5 471.8,136.8 465.8,133.2 438.2,123.2 434.2,120.5 430.8,117.2 423.2,108.2 419.2,102.5 413.2,90.5 410.5,81.8 408.8,74.5 410.8,72.2 414.8,76.2 417.8,77.8 427.2,80.5 432.8,79.8 436.2,78.5 447.2,75.5 454.8,74.8 467.5,72.2 477.2,72.2 483.2,72.8 494.8,74.8 505.5,78.8 514.8,83.2 521.8,85.2 524.5,85.8 532.5,86.2 536.8,84.8 538.5,83.5 545.8,74.5 550.8,64.5 556.5,46.2 557.2,44.8 559.2,42.8Z"/>
<path fill-rule="evenodd" fill="#8fff00" d="M559.2,42.8 561.2,44.8 563.2,50.8 564.8,58.2 567.8,66.8 571.8,75.2 574.5,78.2 579.2,84.8 581.5,90.5 585.5,95.2 598.8,104.5 605.2,108.2 609.8,112.8 615.5,117.2 623.5,125.2 627.2,129.8 632.8,134.8 637.2,137.2 643.5,143.5 647.8,152.2 656.8,163.8 660.5,169.8 662.2,174.5 661.8,176.8 646.8,174.2 640.2,171.8 628.9,165.8 616.3,157.2 591.8,144.9 589.7,142.2 589.1,134.2 587.2,129.0 583.2,122.5 578.2,118.2 575.2,117.2 569.8,117.7 564.2,114.8 560.2,113.8 553.8,113.3 545.8,113.6 538.2,115.0 535.5,116.1 533.8,117.4 532.2,120.2 531.3,123.8 531.2,126.7 532.0,128.8 542.5,138.4 548.9,143.2 551.5,143.6 557.8,142.1 562.5,142.2 565.5,143.3 570.8,146.7 575.8,147.8 577.7,148.8 581.0,152.5 586.3,157.2 589.6,162.2 591.3,166.8 593.5,178.8 598.0,189.3 592.2,186.5 579.8,182.5 567.5,180.8 561.8,180.8 561.5,180.5 554.2,180.5 542.8,184.8 532.8,186.8 521.5,187.2 514.5,184.8 506.5,179.5 496.5,169.5 471.8,136.8 465.8,133.2 438.2,123.2 434.2,120.5 430.8,117.2 423.2,108.2 419.2,102.5 413.2,90.5 410.5,81.8 408.8,74.5 410.8,72.2 414.8,76.2 417.8,77.8 427.2,80.5 432.8,79.8 436.2,78.5 447.2,75.5 454.8,74.8 467.5,72.2 477.2,72.2 483.2,72.8 494.8,74.8 505.5,78.8 514.8,83.2 521.8,85.2 524.5,85.8 532.5,86.2 536.8,84.8 538.5,83.5 545.8,74.5 550.8,64.5 556.5,46.2 557.2,44.8 559.2,42.8Z"/>
<path fill-rule="evenodd" fill="#70ff00" d="M559.2,42.8 561.2,44.8 563.2,50.8 564.8,58.2 567.8,66.8 571.8,75.2 574.5,78.2 579.2,84.8 581.5,90.5 585.5,95.2 598.8,104.5 605.2,108.2 609.8,112.8 615.5,117.2 623.5,125.2 627.2,129.8 632.8,134.8 637.2,137.2 643.5,143.5 647.8,152.2 657.5,164.8 660.8,170.5 661.6,173.3 647.2,172.2 640.9,170.2 629.5,163.8 618.2,155.6 594.2,142.5 591.8,139.8 590.0,131.8 585.9,123.2 582.6,119.2 578.2,115.9 574.5,114.7 569.5,114.8 563.8,112.4 559.8,111.5 553.5,111.2 542.8,111.7 536.2,113.3 533.8,114.5 532.4,115.8 530.9,118.8 529.0,125.2 528.9,127.2 529.8,129.2 542.8,140.4 548.5,144.5 551.2,145.1 557.5,143.0 562.2,143.0 565.5,144.4 570.8,148.3 574.8,149.8 576.5,150.8 584.3,159.2 586.9,163.2 589.2,168.5 592.1,179.2 596.4,188.5 592.2,186.5 579.8,182.5 567.5,180.8 561.8,180.8 561.5,180.5 554.2,180.5 542.8,184.8 532.8,186.8 521.5,187.2 514.5,184.8 506.5,179.5 496.5,169.5 471.8,136.8 465.8,133.2 438.2,123.2 434.2,120.5 430.8,117.2 423.2,108.2 419.2,102.5 413.2,90.5 410.5,81.8 408.8,74.5 410.8,72.2 414.8,76.2 417.8,77.8 427.2,80.5 432.8,79.8 436.2,78.5 447.2,75.5 454.8,74.8 467.5,72.2 477.2,72.2 483.2,72.8 494.8,74.8 505.5,78.8 514.8,83.2 521.8,85.2 524.5,85.8 532.5,86.2 536.8,84.8 538.5,83.5 545.8,74.5 550.8,64.5 556.5,46.2 557.2,44.8 559.2,42.8Z"/>
<path fill-rule="evenodd" fill="#50ff00" d="M559.2,42.8 561.2,44.8 563.2,50.8 564.8,58.2 567.8,66.8 571.8,75.2 574.5,78.2 579.2,84.8 581.5,90.5 585.5,95.2 598.8,104.5 605.2,108.2 609.8,112.8 615.5,117.2 623.5,125.2 627.2,129.8 632.8,134.8 637.2,137.2 643.5,143.5 647.8,152.2 656.8,163.8 660.3,169.7 654.5,169.2 646.8,169.7 641.5,168.2 630.4,161.8 619.2,153.6 596.4,140.5 593.5,137.5 590.6,129.5 586.5,121.0 582.9,117.2 578.2,114.2 574.5,112.7 568.8,111.9 563.5,109.9 560.5,109.3 540.8,109.6 534.5,111.5 532.4,112.8 530.8,114.5 526.7,125.5 526.7,127.5 527.5,129.2 530.0,131.8 544.2,143.3 547.9,145.8 551.2,146.5 557.2,143.9 559.8,143.6 562.2,143.9 565.0,145.2 570.2,149.6 575.4,152.8 581.8,159.8 584.4,163.8 587.4,170.2 590.4,179.2 594.7,187.8 592.2,186.5 579.8,182.5 567.5,180.8 561.8,180.8 561.5,180.5 554.2,180.5 542.8,184.8 532.8,186.8 521.5,187.2 514.5,184.8 506.5,179.5 496.5,169.5 471.8,136.8 465.8,133.2 438.2,123.2 434.2,120.5 430.8,117.2 423.2,108.2 419.2,102.5 413.2,90.5 410.5,81.8 408.8,74.5 410.8,72.2 414.8,76.2 417.8,77.8 427.2,80.5 432.8,79.8 436.2,78.5 447.2,75.5 454.8,74.8 467.5,72.2 477.2,72.2 483.2,72.8 494.8,74.8 505.5,78.8 514.8,83.2 521.8,85.2 524.5,85.8 532.5,86.2 536.8,84.8 538.5,83.5 545.8,74.5 550.8,64.5 556.5,46.2 557.2,44.8 559.2,42.8Z"/>
<path fill-rule="evenodd" fill="#30ff00" d="M559.2,42.8 561.2,44.8 563.2,50.8 564.8,58.2 567.8,66.8 571.8,75.2 574.5,78.2 579.2,84.8 581.5,90.5 585.5,95.2 598.8,104.5 605.2,108.2 609.8,112.8 615.5,117.2 623.5,125.2 626.8,129.5 631.2,133.5 633.8,135.5 637.2,137.2 643.5,143.5 647.8,152.2 653.2,158.8 657.9,165.9 652.8,165.7 645.8,166.4 641.1,165.2 635.3,161.8 620.4,151.8 598.5,138.6 596.2,136.8 594.6,134.8 589.5,122.9 587.2,119.2 583.5,115.7 577.8,112.4 572.8,110.3 561.5,107.2 539.2,106.9 536.2,107.8 533.2,109.4 530.8,111.1 529.4,112.8 527.1,119.8 524.3,124.8 524.3,126.8 525.2,129.2 527.7,131.8 539.8,141.8 547.8,147.4 549.8,148.0 551.5,148.0 556.2,145.1 559.5,144.4 562.5,144.9 565.5,146.7 569.8,151.1 575.2,155.4 580.3,161.5 584.6,169.5 588.7,179.2 592.7,186.8 577.8,182.2 567.5,180.8 554.2,180.5 542.8,184.8 532.8,186.8 521.5,187.2 514.5,184.8 506.5,179.5 496.5,169.5 471.8,136.8 465.8,133.2 438.2,123.2 434.2,120.5 424.5,109.8 419.2,102.5 413.2,90.5 410.5,81.8 408.8,74.5 410.8,72.2 414.8,76.2 417.8,77.8 427.2,80.5 432.8,79.8 436.2,78.5 447.2,75.5 454.8,74.8 467.5,72.2 477.2,72.2 483.2,72.8 494.8,74.8 505.5,78.8 514.8,83.2 521.8,85.2 524.5,85.8 532.5,86.2 536.8,84.8 538.5,83.5 545.8,74.5 550.8,64.5 556.5,46.2 557.2,44.8 559.2,42.8Z"/>
<path fill-rule="evenodd" fill="#10ff00" d="M559.2,42.8 561.2,44.8 563.2,50.8 564.8,58.2 567.8,66.8 571.8,75.2 574.5,78.2 579.2,84.8 581.5,90.5 585.5,95.2 598.8,104.5 605.2,108.2 609.8,112.8 615.5,117.2 623.5,125.2 626.8,129.5 631.2,133.5 633.8,135.5 637.2,137.2 643.5,143.5 647.8,152.2 655.5,162.2 644.5,162.4 640.8,161.4 633.5,156.6 620.2,149.2 601.5,137.4 597.8,134.8 595.8,132.6 590.6,121.5 587.4,117.2 583.3,113.8 574.5,109.1 566.5,106.2 561.5,105.0 540.8,103.5 535.2,104.5 530.8,107.1 527.2,111.5 525.2,118.5 522.0,123.5 522.0,126.5 523.4,129.5 525.5,131.9 537.2,142.0 542.8,146.2 547.2,148.6 549.8,149.5 551.8,149.4 556.2,146.1 559.2,145.2 561.8,145.6 564.5,147.1 569.5,152.7 574.7,157.5 577.5,161.2 582.8,170.5 590.5,186.2 579.8,182.5 567.5,180.8 561.8,180.8 561.5,180.5 554.2,180.5 542.8,184.8 532.8,186.8 521.5,187.2 514.5,184.8 506.5,179.5 496.5,169.5 471.8,136.8 465.8,133.2 446.8,126.2 440.2,124.2 434.2,120.5 427.5,113.5 419.2,102.5 413.2,90.5 410.5,81.8 408.8,74.2 410.8,72.2 414.8,76.2 417.8,77.8 427.2,80.5 432.8,79.8 436.2,78.5 447.2,75.5 454.8,74.8 467.5,72.2 477.2,72.2 485.8,73.2 494.8,74.8 505.5,78.8 515.8,83.5 524.5,85.8 532.5,86.2 536.8,84.8 538.5,83.5 545.8,74.5 550.8,64.5 556.5,46.2 557.2,44.8 559.2,42.8Z"/>
<path fill-rule="evenodd" fill="#00ff10" d="M559.2,42.8 561.2,44.8 563.2,50.8 564.8,58.2 567.8,66.8 571.8,75.2 574.5,78.2 579.2,84.8 581.5,90.5 585.5,95.2 598.8,104.5 605.2,108.2 609.8,112.8 615.5,117.2 623.5,125.2 626.8,129.5 631.2,133.5 633.8,135.5 637.2,137.2 643.5,143.5 647.8,152.2 652.8,158.4 642.2,157.2 635.5,153.6 624.2,149.1 616.2,144.3 601.2,134.2 597.8,131.5 595.5,128.2 591.7,120.2 587.2,115.0 583.5,112.4 572.2,106.1 563.2,103.0 541.8,100.6 536.8,100.7 531.5,102.1 528.2,104.2 525.1,107.8 522.9,111.5 520.3,118.2 519.6,120.8 519.6,123.8 520.3,127.2 521.6,129.8 534.5,142.4 540.2,146.5 546.0,149.5 549.5,150.7 551.8,151.0 553.5,150.4 556.2,147.4 558.2,146.3 560.8,146.3 563.5,147.7 575.0,160.8 581.6,172.2 588.0,185.2 579.8,182.5 567.5,180.8 561.8,180.8 561.5,180.5 554.2,180.5 542.8,184.8 532.8,186.8 521.5,187.2 514.5,184.8 506.5,179.5 496.5,169.5 471.8,136.8 465.8,133.2 446.8,126.2 440.2,124.2 434.2,120.5 427.5,113.5 419.2,102.5 413.2,90.5 410.5,81.8 408.8,74.2 410.8,72.2 414.8,76.2 417.8,77.8 427.2,80.5 432.8,79.8 436.2,78.5 447.2,75.5 454.8,74.8 467.5,72.2 477.2,72.2 485.8,73.2 494.8,74.8 505.5,78.8 515.8,83.5 524.5,85.8 532.5,86.2 536.8,84.8 538.5,83.5 545.8,74.5 550.8,64.5 556.5,46.2 557.2,44.8 559.2,42.8Z"/>
<path fill-rule="evenodd" fill="#00ff30" d="M559.2,42.8 561.2,44.8 563.2,50.8 564.8,58.2 567.8,66.8 571.8,75.2 574.5,78.2 579.2,84.8 581.5,90.5 585.5,95.2 598.8,104.5 605.2,108.2 609.8,112.8 615.5,117.2 623.5,125.2 626.8,129.5 631.2,133.5 633.8,135.5 637.2,137.2 643.5,143.5 647.8,152.2 649.8,154.5 644.2,153.3 626.2,147.5 621.8,145.6 616.8,142.6 599.2,129.6 597.0,126.8 592.9,119.2 588.2,114.0 576.5,106.4 570.8,103.4 562.8,100.8 540.2,98.0 534.8,98.3 528.2,100.2 525.2,102.1 522.3,104.8 518.8,109.2 517.4,112.2 516.9,116.2 517.2,121.2 518.6,127.2 520.1,130.5 531.5,142.5 537.5,146.8 543.5,149.8 549.5,152.0 552.8,152.6 554.7,151.8 556.5,148.8 558.0,147.5 560.2,147.2 562.5,148.4 566.5,153.8 572.8,160.8 580.4,173.5 585.4,184.4 579.8,182.5 572.8,181.5 567.5,180.8 561.8,180.8 561.5,180.5 554.2,180.5 542.8,184.8 532.8,186.8 521.5,187.2 514.5,184.8 506.5,179.5 496.5,169.5 471.8,136.8 465.8,133.2 446.8,126.2 440.2,124.2 434.2,120.5 427.5,113.5 419.2,102.5 413.2,90.5 410.5,81.8 408.8,74.2 410.8,72.2 414.8,76.2 417.8,77.8 427.2,80.5 432.8,79.8 436.2,78.5 447.2,75.5 454.8,74.8 467.5,72.2 477.2,72.2 485.8,73.2 494.8,74.8 505.5,78.8 515.8,83.5 524.5,85.8 532.5,86.2 536.8,84.8 538.5,83.5 545.8,74.5 550.8,64.5 556.5,46.2 557.2,44.8 559.2,42.8Z"/>
<path fill-rule="evenodd" fill="#00ff50" d="M559.2,42.8 561.2,44.8 563.2,50.8 564.8,58.2 567.8,66.8 571.8,75.2 574.5,78.2 579.2,84.8 581.5,90.5 585.5,95.2 598.8,104.5 605.2,108.2 609.8,112.8 615.5,117.2 623.5,125.2 627.2,129.8 632.8,134.8 637.2,137.2 643.5,143.5 647.1,150.4 625.8,145.1 621.8,143.5 617.2,140.7 600.8,128.1 598.7,125.5 594.3,118.5 589.2,113.1 577.5,104.7 570.8,101.3 562.5,98.6 539.2,95.6 533.2,96.3 525.5,98.8 522.0,101.2 518.0,105.2 515.6,108.2 514.5,110.8 514.4,114.5 515.0,119.8 517.3,128.2 518.7,131.2 528.8,142.8 534.3,146.8 540.2,149.8 550.2,153.6 555.2,154.5 556.7,154.2 557.4,153.5 557.7,150.5 558.5,149.2 559.8,148.8 561.2,149.4 562.2,150.8 563.4,154.5 569.9,159.8 577.9,172.2 580.1,176.5 582.7,183.5 579.8,182.5 567.5,180.8 554.2,180.5 542.8,184.8 532.8,186.8 521.5,187.2 514.5,184.8 506.5,179.5 496.5,169.5 471.8,136.8 465.8,133.2 446.8,126.2 440.2,124.2 434.2,120.5 427.5,113.5 419.2,102.5 413.2,90.5 410.5,81.8 408.8,74.2 410.8,72.2 414.8,76.2 417.8,77.8 427.2,80.5 432.8,79.8 436.2,78.5 447.2,75.5 454.8,74.8 467.5,72.2 477.2,72.2 485.8,73.2 494.8,74.8 505.5,78.8 515.8,83.5 524.5,85.8 532.5,86.2 536.8,84.8 538.5,83.5 545.8,74.5 550.8,64.5 556.5,46.2 557.2,44.8 559.2,42.8Z"/>
<path fill-rule="evenodd" fill="#00ff70" d="M559.2,42.8 561.2,44.8 563.2,50.8 564.8,58.2 567.8,66.8 571.8,75.2 574.5,78.2 579.2,84.8 581.5,90.5 585.5,95.2 598.8,104.5 605.2,108.2 609.8,112.8 615.5,117.2 623.5,125.2 627.2,129.8 632.8,134.8 637.8,137.8 643.5,143.5 645.2,146.8 625.8,142.9 621.8,141.4 617.2,138.8 612.7,135.5 602.8,126.8 595.5,117.5 590.2,112.1 578.5,102.9 572.4,99.8 562.5,96.6 538.8,93.3 532.5,94.3 523.5,97.6 519.8,100.2 515.5,104.3 513.1,107.5 512.0,110.5 512.0,113.8 512.8,118.8 516.1,129.5 517.2,131.8 521.3,136.5 525.1,142.2 532.2,147.5 537.7,150.2 547.5,154.0 560.2,158.5 565.5,159.7 567.5,160.8 577.0,173.8 578.5,177.2 580.0,182.6 567.5,180.8 554.2,180.5 542.8,184.8 532.8,186.8 521.5,187.2 514.5,184.8 506.5,179.5 496.5,169.5 471.8,136.8 465.8,133.2 446.8,126.2 440.2,124.2 434.2,120.5 427.5,113.5 419.2,102.5 413.2,90.5 410.5,81.8 408.8,74.2 410.8,72.2 414.8,76.2 417.8,77.8 427.2,80.5 432.8,79.8 436.2,78.5 447.2,75.5 454.8,74.8 467.5,72.2 477.2,72.2 485.8,73.2 494.8,74.8 505.5,78.8 515.8,83.5 524.5,85.8 532.5,86.2 536.8,84.8 538.5,83.5 545.8,74.5 550.8,64.5 556.5,46.2 557.2,44.8 559.2,42.8Z"/>
<path fill-rule="evenodd" fill="#00ff8f" d="M559.2,42.8 561.2,44.8 563.2,50.8 564.8,58.2 567.8,66.8 571.8,75.2 574.5,78.2 579.2,84.8 581.5,90.5 585.5,95.2 598.8,104.5 605.2,108.2 609.8,112.8 615.5,117.2 623.5,125.2 627.2,129.8 632.8,134.8 637.2,137.2 643.5,143.5 637.5,142.8 625.5,140.5 621.5,139.1 617.2,136.8 613.3,133.8 605.1,126.2 597.3,117.2 591.2,110.9 579.8,101.5 574.0,98.5 562.5,94.7 538.8,91.2 535.8,91.5 531.2,92.8 525.2,94.8 521.2,96.8 516.9,99.8 513.2,103.5 510.7,107.2 509.5,110.5 509.6,113.2 510.3,117.2 515.8,132.5 519.2,136.8 522.5,142.5 527.9,146.8 533.6,149.8 550.9,156.8 566.5,164.0 574.8,173.8 575.8,176.2 577.2,182.2 567.5,180.8 554.2,180.5 542.8,184.8 532.8,186.8 527.2,186.8 526.8,187.2 521.5,187.2 514.5,184.8 506.5,179.5 496.5,169.5 471.8,136.8 465.8,133.2 446.8,126.2 440.2,124.2 434.2,120.5 427.5,113.5 419.2,102.5 413.2,90.5 410.5,81.8 408.8,74.2 410.8,72.2 414.8,76.2 417.8,77.8 427.2,80.5 432.8,79.8 436.2,78.5 447.2,75.5 454.8,74.8 467.5,72.2 477.2,72.2 485.8,73.2 494.8,74.8 505.5,78.8 515.8,83.5 524.5,85.8 532.5,86.2 536.8,84.8 538.5,83.5 545.8,74.5 550.8,64.5 556.5,46.2 557.2,44.8 559.2,42.8Z"/>
<path fill-rule="evenodd" fill="#00ffaf" d="M559.2,42.8 561.2,44.8 563.2,50.8 564.8,58.2 567.8,66.8 571.8,75.2 574.5,78.2 579.2,84.8 581.5,90.5 585.5,95.2 598.8,104.5 605.2,108.2 609.8,112.8 615.5,117.2 623.5,125.2 626.8,129.5 631.2,133.5 633.8,135.5 637.2,137.2 640.4,140.4 624.5,137.9 620.8,136.7 617.2,134.7 609.2,127.5 600.9,118.2 592.2,109.6 580.2,99.6 574.8,96.9 562.8,92.9 538.8,89.1 535.2,89.6 526.2,92.7 518.0,96.5 513.7,99.8 510.3,103.8 507.6,108.5 507.0,112.2 507.9,116.8 511.8,124.8 513.6,131.8 517.2,137.2 519.7,142.5 522.8,145.5 527.6,148.5 549.3,157.8 564.5,166.2 567.9,169.2 570.9,172.8 572.0,175.2 572.5,178.8 574.3,181.8 567.5,180.8 554.2,180.5 542.8,184.8 532.8,186.8 527.2,186.8 526.8,187.2 521.5,187.2 514.5,184.8 506.5,179.5 496.5,169.5 471.8,136.8 465.8,133.2 446.8,126.2 440.2,124.2 434.2,120.5 427.5,113.5 419.2,102.5 413.2,90.5 410.5,81.8 408.8,74.2 410.8,72.2 414.8,76.2 417.8,77.8 427.2,80.5 432.8,79.8 436.2,78.5 447.2,75.5 454.8,74.8 467.5,72.2 477.2,72.2 485.8,73.2 494.8,74.8 505.5,78.8 515.8,83.5 524.5,85.8 532.5,86.2 536.8,84.8 538.5,83.5 545.8,74.5 550.8,64.5 556.5,46.2 557.2,44.8 559.2,42.8Z"/>
<path fill-rule="evenodd" fill="#00ffcf" d="M559.2,42.8 561.2,44.8 563.2,50.8 564.8,58.2 567.8,66.8 571.8,75.2 574.5,78.2 579.2,84.8 581.5,90.5 585.5,95.2 598.8,104.5 605.2,108.2 609.8,112.8 615.5,117.2 623.5,125.2 626.8,129.5 631.2,133.5 633.8,135.5 637.2,137.2 623.2,135.0 617.8,132.9 614.8,130.5 609.6,125.2 602.5,116.6 593.2,108.0 581.5,98.6 577.2,95.9 565.5,91.8 561.2,90.7 547.8,88.7 541.2,87.0 538.5,86.9 534.8,87.8 523.8,91.8 514.9,96.2 511.2,99.3 507.8,103.8 505.0,108.8 504.4,112.5 505.4,117.2 510.1,124.5 512.2,132.5 515.2,137.5 517.5,143.2 520.1,145.8 524.2,148.4 545.4,157.8 559.1,165.8 564.3,170.5 565.5,172.5 567.0,176.8 571.4,181.5 567.5,180.8 554.2,180.5 542.8,184.8 532.8,186.8 521.5,187.2 514.5,184.8 506.5,179.5 496.5,169.5 471.8,136.8 465.8,133.2 446.8,126.2 440.2,124.2 434.2,120.5 427.5,113.5 419.2,102.5 413.2,90.5 410.5,81.8 408.8,74.2 410.8,72.2 414.8,76.2 417.8,77.8 427.2,80.5 432.8,79.8 436.2,78.5 447.2,75.5 454.8,74.8 467.5,72.2 477.2,72.2 485.8,73.2 494.8,74.8 505.5,78.8 515.8,83.5 524.5,85.8 532.5,86.2 536.8,84.8 538.5,83.5 545.8,74.5 550.8,64.5 556.5,46.2 557.2,44.8 559.2,42.8Z"/>
<path fill-rule="evenodd" fill="#00ffef" d="M559.2,42.8 561.2,44.8 563.2,50.8 564.8,58.2 567.8,66.8 571.8,75.2 574.5,78.2 579.2,84.8 581.5,90.5 585.5,95.2 598.8,104.5 605.2,108.2 609.8,112.8 615.5,117.2 623.5,125.2 626.8,129.5 630.8,133.1 621.2,131.5 617.8,130.0 610.5,122.8 605.2,115.6 593.8,105.9 579.2,95.0 564.8,89.7 549.5,86.8 542.2,84.5 539.5,84.4 535.5,85.5 517.3,92.8 511.6,95.8 508.0,99.5 503.8,105.8 502.0,109.5 501.7,112.5 503.3,118.2 507.5,122.9 509.1,125.5 510.6,132.8 513.2,137.8 515.2,143.8 517.4,146.2 521.0,148.5 540.9,157.5 551.6,163.8 557.1,168.5 561.9,175.8 568.4,181.2 561.5,180.5 554.2,180.5 542.8,184.8 532.8,186.8 521.5,187.2 514.5,184.8 506.5,179.5 496.5,169.5 471.8,136.8 465.8,133.2 446.8,126.2 440.2,124.2 434.2,120.5 427.5,113.5 419.2,102.5 413.2,90.5 410.5,81.8 408.8,74.2 410.8,72.2 414.8,76.2 417.8,77.8 427.2,80.5 432.8,79.8 436.2,78.5 447.2,75.5 454.8,74.8 467.5,72.2 477.2,72.2 485.8,73.2 494.8,74.8 505.5,78.8 515.8,83.5 524.5,85.8 532.5,86.2 536.8,84.8 538.5,83.5 545.8,74.5 550.8,64.5 556.5,46.2 557.2,44.8 559.2,42.8Z"/>
<path fill-rule="evenodd" fill="#00efff" d="M559.2,42.8 561.2,44.8 563.2,50.8 564.8,58.2 567.8,66.8 571.8,75.2 574.5,78.2 579.2,84.8 581.5,90.5 585.5,95.2 598.8,104.5 605.2,108.2 609.8,112.8 615.5,117.2 623.5,125.2 626.1,128.4 620.8,126.7 617.8,125.0 613.2,120.7 606.7,113.5 595.5,104.6 579.2,93.0 564.2,87.5 550.3,84.5 544.2,81.5 540.2,81.6 545.8,74.5 550.2,66.2 556.5,46.2 557.2,44.8 559.2,42.8ZM410.8,72.2 414.8,76.2 417.8,77.8 427.2,80.5 432.8,79.8 436.2,78.5 447.2,75.5 454.8,74.8 467.5,72.2 477.2,72.2 483.2,72.8 494.8,74.8 505.5,78.8 515.8,83.5 524.5,85.8 529.5,86.2 512.5,92.9 508.5,95.5 502.8,101.5 499.9,105.8 498.0,110.2 498.3,113.5 501.4,119.2 505.8,123.2 507.6,125.5 508.4,127.8 509.2,133.8 511.2,138.5 512.4,143.5 514.0,145.8 519.0,149.2 535.6,156.8 544.2,161.8 549.5,166.2 555.8,173.8 565.4,180.8 554.2,180.5 542.8,184.8 532.8,186.8 521.5,187.2 514.5,184.8 506.5,179.5 496.5,169.5 471.8,136.8 465.8,133.2 446.8,126.2 440.2,124.2 434.2,120.5 430.2,116.5 423.2,108.2 419.2,102.5 413.2,90.5 410.5,81.8 408.8,74.5 410.8,72.2Z"/>
<path fill-rule="evenodd" fill="#00cfff" d="M559.2,42.8 561.2,44.8 566.8,64.5 571.8,75.2 574.5,78.2 579.2,84.8 581.5,90.5 585.5,95.2 593.2,100.5 578.2,90.4 571.5,88.3 564.5,85.4 552.2,82.4 545.5,78.8 542.7,78.6 545.8,74.5 550.2,66.2 556.5,46.2 557.2,44.8 559.2,42.8ZM410.8,72.2 414.8,76.2 417.8,77.8 427.2,80.5 432.8,79.8 436.2,78.5 447.2,75.5 454.8,74.8 467.5,72.2 477.2,72.2 483.2,72.8 494.8,74.8 505.5,78.8 514.8,83.2 524.5,85.8 526.1,85.8 509.2,92.4 500.4,98.8 497.4,101.8 493.1,107.8 491.3,111.5 491.1,113.8 492.1,115.2 496.8,117.8 504.5,123.8 506.0,125.5 507.0,127.8 507.5,133.6 509.2,138.8 510.0,143.5 511.8,146.5 516.3,149.5 530.4,156.2 537.2,160.2 542.3,164.2 549.6,172.2 562.7,180.8 554.2,180.5 542.8,184.8 532.8,186.8 521.5,187.2 514.5,184.8 506.5,179.5 496.5,169.5 471.8,136.8 465.8,133.2 446.8,126.2 440.2,124.2 434.2,120.5 430.2,116.5 423.2,108.2 419.2,102.5 413.2,90.5 410.5,81.8 408.8,74.5 410.8,72.2ZM593.8,100.8 594.1,101.1 593.8,100.8ZM594.8,101.5 595.1,101.8 594.8,101.5ZM597.2,103.2 597.4,103.4 597.2,103.2ZM598.2,103.8 598.8,104.5 598.2,103.8ZM599.2,104.5 605.2,108.2 609.5,112.5 599.2,104.5ZM610.2,112.8 618.3,119.9 610.2,112.8Z"/>
<path fill-rule="evenodd" fill="#00afff" d="M559.2,42.8 561.2,44.8 563.2,50.8 564.8,58.2 567.8,66.8 571.8,75.2 574.5,78.2 579.2,84.8 581.2,89.8 577.8,88.0 571.5,86.0 565.8,83.2 554.2,80.5 546.9,76.8 544.2,76.4 545.8,74.5 550.2,66.2 556.5,46.2 557.2,44.8 559.2,42.8ZM410.8,72.2 414.8,76.2 417.8,77.8 427.2,80.5 432.8,79.8 436.2,78.5 447.2,75.5 454.8,74.8 467.5,72.2 477.2,72.2 483.2,72.8 494.8,74.8 505.5,78.8 514.8,83.2 522.8,85.2 523.1,85.4 517.5,87.8 507.0,91.2 498.5,96.9 487.7,105.8 482.8,113.5 482.6,116.2 483.5,117.3 485.2,118.2 495.5,120.4 503.5,124.9 504.8,126.4 505.6,128.2 506.0,134.2 507.2,139.2 507.7,143.8 509.3,146.8 513.2,149.6 525.1,155.5 530.8,158.8 535.8,162.8 540.2,168.2 542.7,170.5 559.1,180.5 554.2,180.5 542.8,184.8 532.8,186.8 521.5,187.2 514.5,184.8 506.5,179.5 496.5,169.5 471.8,136.8 465.8,133.2 446.8,126.2 440.2,124.2 434.2,120.5 430.2,116.5 423.2,108.2 419.2,102.5 413.2,90.5 410.5,81.8 408.8,74.5 410.8,72.2ZM456.5,116.2 455.2,117.6 454.7,119.2 455.2,120.5 456.5,121.0 457.8,120.2 458.2,118.2 457.8,116.2 456.5,116.2Z"/>
<path fill-rule="evenodd" fill="#008fff" d="M559.2,42.8 561.2,44.8 566.8,64.5 570.5,72.5 571.8,75.2 574.5,78.2 579.2,84.8 579.8,86.6 567.5,80.8 555.2,78.7 552.2,77.6 548.2,75.2 545.8,74.6 550.8,64.5 556.5,46.2 557.2,44.8 559.2,42.8ZM410.8,72.2 414.8,76.2 417.8,77.8 427.2,80.5 432.8,79.8 436.2,78.5 447.2,75.5 454.8,74.8 467.5,72.2 477.2,72.2 483.2,72.8 494.8,74.8 505.5,78.8 514.8,83.2 520.5,84.5 516.2,86.6 507.5,88.9 503.5,90.7 493.5,97.7 484.4,102.2 474.6,108.2 471.9,110.5 471.0,112.5 477.5,119.8 479.8,121.6 492.2,122.2 498.8,124.1 502.3,125.8 503.5,127.2 504.2,128.8 505.4,144.2 505.9,145.8 507.0,147.5 510.2,149.8 521.1,155.5 526.7,159.2 530.1,162.5 533.5,167.8 536.2,170.2 555.2,180.5 549.2,182.2 542.8,184.8 532.8,186.8 521.5,187.2 514.5,184.8 506.5,179.5 496.5,169.5 471.8,136.8 465.8,133.2 446.8,126.2 440.2,124.2 434.2,120.5 430.2,116.5 423.2,108.2 419.2,102.5 413.2,90.5 410.5,81.8 408.8,74.5 410.8,72.2ZM458.4,107.2 455.8,108.9 452.8,113.1 450.9,117.2 450.4,120.5 451.2,122.5 453.2,124.0 456.8,125.5 459.8,125.9 461.5,125.4 462.5,124.2 464.5,118.3 467.3,112.8 466.2,110.8 463.2,107.8 460.8,106.9 458.4,107.2Z"/>
<path fill-rule="evenodd" fill="#0070ff" d="M559.2,42.8 561.2,44.8 563.2,50.8 564.8,58.2 567.8,66.8 571.8,75.2 575.5,79.5 577.5,82.8 568.5,78.4 565.5,77.7 556.2,77.1 553.2,76.0 548.8,73.3 546.5,72.8 550.8,64.5 556.5,46.2 557.2,44.8 559.2,42.8ZM410.8,72.2 414.8,76.2 417.8,77.8 427.2,80.5 432.8,79.8 436.2,78.5 447.2,75.5 454.8,74.8 467.5,72.2 477.2,72.2 485.8,73.2 494.8,74.8 505.5,78.8 514.8,83.2 517.8,83.8 514.2,85.4 503.8,88.2 500.3,90.2 492.8,95.4 483.2,99.0 467.8,103.1 459.8,103.3 456.2,104.5 453.2,107.3 449.9,112.8 447.9,118.8 448.0,122.2 449.5,124.2 452.1,125.8 457.2,127.9 461.2,128.8 462.8,128.7 464.2,127.9 467.2,121.7 468.5,120.5 469.8,120.1 472.5,120.7 477.2,123.8 479.2,124.7 488.5,123.9 500.5,126.6 501.9,127.8 502.7,129.5 503.1,144.5 503.6,146.5 504.8,148.2 521.2,158.5 523.7,161.5 525.6,166.5 529.2,169.8 533.8,172.6 546.1,178.5 551.4,181.5 542.8,184.8 532.8,186.8 521.5,187.2 514.5,184.8 506.5,179.5 496.5,169.5 471.8,136.8 465.8,133.2 446.8,126.2 440.2,124.2 434.2,120.5 430.2,116.5 423.2,108.2 419.2,102.5 413.2,90.5 410.5,81.8 408.8,74.5 410.8,72.2Z"/>
<path fill-rule="evenodd" fill="#0050ff" d="M559.2,42.8 561.2,44.8 563.2,50.8 564.8,58.2 567.8,66.8 571.8,75.2 574.5,78.4 567.2,75.6 559.5,75.7 556.5,75.3 553.8,74.3 549.8,71.6 547.5,71.1 550.8,64.5 556.5,46.2 557.2,44.8 559.2,42.8ZM410.8,72.2 414.8,76.2 417.8,77.8 427.2,80.5 432.8,79.8 436.2,78.5 447.2,75.5 454.8,74.8 467.5,72.2 477.2,72.2 485.8,73.2 494.8,74.8 505.5,78.8 514.7,83.1 502.5,86.7 492.5,93.0 484.8,95.8 468.5,99.4 457.8,100.7 453.8,102.3 451.4,104.8 448.7,109.5 446.8,113.8 445.0,120.2 445.1,122.2 445.8,123.8 447.7,125.8 450.5,127.5 449.8,127.5 440.2,124.2 434.2,120.5 427.5,113.5 421.5,105.8 419.2,102.5 415.5,95.5 412.5,88.5 408.8,74.5 410.8,72.2ZM470.8,123.8 472.8,124.2 479.2,127.1 487.8,125.9 494.2,127.6 498.2,128.1 499.8,128.8 500.6,129.8 501.0,131.5 500.9,145.2 502.3,148.5 515.7,157.8 517.4,160.2 519.1,165.5 523.5,169.8 529.8,174.0 546.9,183.2 542.8,184.8 532.8,186.8 521.5,187.2 514.5,184.8 506.5,179.5 496.5,169.5 471.8,136.8 465.8,133.2 455.9,129.6 461.5,131.2 464.5,131.1 466.2,129.8 468.8,124.9 470.8,123.8ZM450.8,127.7 452.0,128.2 450.8,127.7ZM452.5,128.4 452.8,128.5 452.5,128.4ZM454.2,129.0 454.6,129.2 454.2,129.0ZM455.2,129.4 455.6,129.5 455.2,129.4Z"/>
<path fill-rule="evenodd" fill="#0030ff" d="M559.2,42.8 561.2,44.8 566.8,64.5 571.5,74.4 566.5,73.1 560.2,73.7 557.5,73.6 555.2,72.7 550.8,69.9 548.5,69.4 550.8,64.5 556.5,46.2 557.2,44.8 559.2,42.8ZM410.8,72.2 414.8,76.2 417.8,77.8 427.2,80.5 432.8,79.8 436.2,78.5 447.2,75.5 454.8,74.8 467.5,72.2 477.2,72.2 485.8,73.2 494.8,74.8 505.5,78.8 511.8,81.8 501.2,85.0 491.6,90.8 483.2,93.8 469.5,96.7 457.2,98.0 452.5,99.5 449.5,102.5 445.7,109.5 441.6,120.5 441.7,124.5 441.2,124.5 438.2,123.2 434.2,120.5 431.8,118.2 424.5,109.8 419.2,102.5 413.2,90.5 410.5,81.8 408.8,74.2 410.8,72.2ZM471.2,127.1 473.5,127.2 480.2,129.7 485.5,128.3 487.8,128.3 497.2,131.9 498.0,133.2 498.5,135.8 498.8,146.2 500.2,149.2 510.1,156.8 511.5,158.8 513.7,164.5 519.0,170.2 526.5,175.7 541.7,184.8 532.8,186.8 521.5,187.2 514.5,184.8 506.5,179.5 496.5,169.5 472.2,137.2 466.1,133.4 467.5,132.1 469.7,128.2 471.2,127.1Z"/>
<path fill-rule="evenodd" fill="#0010ff" d="M559.2,42.8 561.2,44.8 566.8,64.5 570.2,71.2 566.2,70.5 558.2,71.4 555.8,70.5 552.0,68.2 549.3,67.7 551.5,62.5 556.5,46.2 557.2,44.8 559.2,42.8ZM410.8,72.2 414.8,76.2 417.8,77.8 427.2,80.5 432.8,79.8 436.2,78.5 447.2,75.5 454.8,74.8 467.5,72.2 477.2,72.2 493.2,74.5 496.8,75.5 508.7,80.4 500.2,82.9 490.8,88.2 481.5,91.7 469.5,94.3 455.8,95.5 450.8,97.0 448.8,98.7 446.8,101.6 443.1,108.8 440.0,116.2 436.6,121.9 434.2,120.5 430.2,116.5 423.2,108.2 419.2,102.5 415.5,95.5 412.5,88.5 408.8,74.5 410.8,72.2ZM472.5,129.8 474.2,129.9 476.1,130.8 482.5,135.9 484.2,135.9 486.8,134.5 488.2,134.4 491.8,135.5 494.3,136.8 496.0,139.8 496.6,146.5 497.4,148.8 499.0,150.8 505.4,156.5 508.1,162.5 511.0,166.5 520.2,175.2 535.8,186.2 532.8,186.8 521.5,187.2 514.5,184.8 506.5,179.5 496.5,169.5 472.2,137.2 468.7,135.0 470.8,130.9 472.5,129.8Z"/>
<path fill-rule="evenodd" fill="#1000ff" d="M559.2,42.8 561.2,44.8 566.5,63.5 568.5,67.9 565.5,67.7 558.8,68.7 552.8,66.2 550.2,65.8 556.5,46.2 557.2,44.8 559.2,42.8ZM410.8,72.2 414.8,76.2 417.8,77.8 427.2,80.5 432.8,79.8 436.2,78.5 447.2,75.5 454.8,74.8 467.5,72.2 477.2,72.2 485.8,73.2 494.8,74.8 504.6,78.6 498.5,80.3 479.2,88.7 468.8,91.5 455.5,92.8 449.2,94.5 446.0,97.8 436.5,114.9 432.6,118.9 424.5,109.8 419.2,102.5 413.2,90.5 410.5,81.8 408.8,74.5 410.8,72.2ZM473.2,133.8 474.2,133.6 475.2,134.1 478.5,138.8 481.2,140.7 483.8,141.3 490.5,140.8 492.8,141.8 493.8,143.5 495.5,149.8 500.5,155.8 503.8,162.2 507.2,166.9 515.8,176.0 529.2,186.8 521.5,187.2 514.5,184.8 506.5,179.5 496.5,169.5 475.2,140.8 472.2,137.5 471.8,136.8 473.2,133.8Z"/>
<path fill-rule="evenodd" fill="#3000ff" d="M559.2,42.8 561.2,44.8 567.0,64.6 559.2,65.5 553.5,64.0 550.8,63.8 556.5,46.2 557.2,44.8 559.2,42.8ZM410.8,72.2 414.8,76.2 417.8,77.8 427.2,80.5 432.8,79.8 436.2,78.5 447.2,75.5 454.8,74.8 467.5,72.2 477.2,72.2 485.8,73.2 494.8,74.8 497.7,76.0 488.3,78.8 479.5,83.8 467.5,88.3 451.8,90.6 447.8,91.8 445.2,94.4 439.2,104.3 432.0,112.5 429.1,115.1 423.2,108.2 419.2,102.5 413.2,90.5 410.5,81.8 408.8,74.5 410.8,72.2ZM476.2,142.1 481.5,143.8 488.5,143.8 490.8,144.8 493.5,150.8 498.7,160.5 503.4,167.5 511.2,176.6 522.3,187.2 514.5,184.8 506.5,179.5 496.5,169.5 476.2,142.1Z"/>
<path fill-rule="evenodd" fill="#5000ff" d="M559.2,42.8 561.2,44.8 566.0,61.3 559.2,62.0 551.5,61.5 556.5,46.2 557.2,44.8 559.2,42.8ZM410.8,72.2 414.8,76.2 417.8,77.8 427.2,80.5 432.8,79.8 436.2,78.5 447.2,75.5 454.8,74.8 467.5,72.2 477.2,72.2 488.5,73.8 484.6,75.5 480.3,79.5 477.8,80.9 471.2,82.1 463.5,86.0 451.5,87.5 446.8,89.0 444.1,91.5 440.2,98.5 438.2,101.2 426.1,111.5 423.2,108.2 419.2,102.5 413.2,90.5 410.5,81.8 408.8,74.5 410.8,72.2ZM479.5,146.5 486.8,146.8 489.2,148.0 493.7,158.5 497.4,165.2 503.3,173.5 510.7,182.2 506.5,179.5 496.5,169.5 479.5,146.5Z"/>
<path fill-rule="evenodd" fill="#7000ff" d="M559.2,42.8 561.2,44.8 564.8,57.8 552.6,58.4 556.5,46.2 557.2,44.8 559.2,42.8ZM410.8,72.2 414.8,76.2 417.8,77.8 427.2,80.5 432.8,79.8 436.2,78.5 447.2,75.5 454.8,74.8 467.5,72.2 477.2,72.2 482.4,72.8 477.2,77.4 469.8,78.1 465.2,81.9 462.8,83.2 460.2,83.6 452.8,83.7 449.5,84.6 446.2,86.1 443.0,88.8 439.2,95.6 436.9,98.5 423.3,108.3 419.2,102.5 413.2,90.5 410.5,81.8 408.8,74.5 410.8,72.2ZM482.5,150.7 484.8,151.2 486.4,152.5 491.1,162.1 482.5,150.7Z"/>
<path fill-rule="evenodd" fill="#8f00ff" d="M559.2,42.8 561.2,44.8 563.8,54.2 553.8,54.3 556.5,46.2 557.2,44.8 559.2,42.8ZM410.8,72.2 414.8,76.2 417.8,77.8 427.2,80.5 432.8,79.8 436.2,78.5 447.2,75.5 454.8,74.8 467.5,72.2 476.8,72.2 468.5,74.9 464.0,79.5 462.2,80.6 460.2,80.9 455.8,80.0 453.5,80.0 450.2,81.0 445.8,83.2 441.8,86.5 437.8,93.2 435.5,95.7 420.9,104.9 419.2,102.5 415.5,95.5 412.5,88.5 408.8,74.5 410.8,72.2Z"/>
<path fill-rule="evenodd" fill="#af00ff" d="M559.2,42.8 561.2,44.8 562.8,50.3 555.2,49.8 557.2,44.8 559.2,42.8ZM410.8,72.2 414.8,76.2 417.8,77.8 427.2,80.5 432.8,79.8 436.2,78.5 447.2,75.5 454.8,74.8 463.2,72.8 468.5,72.2 465.1,73.8 461.3,77.2 456.2,76.7 453.5,77.0 449.8,78.2 445.2,80.6 440.6,84.2 436.2,90.6 434.0,92.8 418.8,101.6 413.2,90.5 410.5,81.8 408.8,74.2 410.8,72.2Z"/>
<path fill-rule="evenodd" fill="#cf00ff" d="M559.2,42.8 561.2,44.8 561.5,45.9 556.8,45.5 559.2,42.8ZM410.8,72.2 414.8,76.2 417.8,77.8 427.2,80.5 432.8,79.8 436.2,78.5 447.2,75.5 451.5,75.2 446.4,77.2 441.8,79.6 438.8,82.2 434.8,87.5 432.2,90.0 425.5,94.0 417.1,98.1 413.2,90.5 410.2,80.5 408.8,74.2 410.8,72.2Z"/>
<path fill-rule="evenodd" fill="#ef00ff" d="M410.8,72.2 414.8,76.2 417.8,77.8 427.2,80.5 427.5,80.2 431.5,80.2 440.2,77.5 436.3,80.2 431.8,85.5 428.5,88.3 422.8,91.6 415.3,94.6 412.5,88.5 408.8,74.5 410.8,72.2Z"/>
<path fill-rule="evenodd" fill="#ff00ef" d="M410.8,72.2 414.8,76.2 417.8,77.8 427.2,80.5 430.2,80.2 426.1,84.8 423.8,86.7 413.5,91.1 410.5,81.8 408.8,74.5 410.8,72.2Z"/>
<path fill-rule="evenodd" fill="#ff00cf" d="M410.8,72.2 414.8,76.2 417.8,77.8 424.0,79.5 418.8,84.5 412.5,87.5 410.5,81.8 408.8,74.5 410.8,72.2Z"/>
<path fill-rule="evenodd" fill="#ff00af" d="M410.8,72.2 414.8,76.2 417.8,77.8 420.0,78.3 415.8,81.5 411.2,83.9 408.8,74.5 410.8,72.2Z"/>
<path fill-rule="evenodd" fill="#ff008f" d="M410.8,72.2 414.8,76.2 416.5,76.8 410.2,80.3 408.8,74.2 410.8,72.2Z"/>
<path fill-rule="evenodd" fill="#ff0070" d="M410.8,72.2 413.4,74.8 409.5,76.8 408.8,74.2 410.8,72.2Z"/></g><g clip-path="url(#lc)"><g filter="url(#sb)"><path fill-rule="evenodd" fill="#ff1000" d="M505.2,120.8 515.2,123.5 525.2,127.5 534.2,131.8 542.5,136.8 551.2,144.8 556.5,153.2 562.8,159.8 574.8,176.2 578.8,180.8 577.8,181.8 577.2,181.8 567.5,179.8 554.2,179.5 542.8,183.8 532.8,185.8 521.5,186.2 514.5,183.8 506.5,178.5 497.5,169.5 489.8,159.2 496.8,136.5 502.2,123.8 505.2,120.8Z"/>
<path fill-rule="evenodd" fill="#ff3000" d="M505.2,120.8 515.2,123.5 525.2,127.5 534.2,131.8 542.5,136.8 551.2,144.8 556.5,153.2 562.8,159.8 574.8,176.2 578.8,180.8 577.8,181.8 577.2,181.8 567.5,179.8 554.2,179.5 542.8,183.8 532.8,185.8 521.5,186.2 514.5,183.8 506.5,178.5 497.5,169.5 489.8,159.2 496.8,136.5 502.2,123.8 505.2,120.8Z"/>
<path fill-rule="evenodd" fill="#ff5000" d="M505.2,120.8 515.2,123.5 525.2,127.5 534.2,131.8 542.5,136.8 551.2,144.8 556.5,153.2 562.8,159.8 574.8,176.2 578.8,180.8 577.8,181.8 577.2,181.8 567.5,179.8 554.2,179.5 542.8,183.8 532.8,185.8 521.5,186.2 514.5,183.8 506.5,178.5 497.5,169.5 489.8,159.2 496.8,136.5 502.2,123.8 505.2,120.8Z"/>
<path fill-rule="evenodd" fill="#ff7000" d="M505.2,120.8 515.2,123.5 525.2,127.5 534.2,131.8 542.5,136.8 551.2,144.8 556.5,153.2 562.8,159.8 574.8,176.2 578.8,180.8 577.8,181.8 577.2,181.8 567.5,179.8 554.2,179.5 542.8,183.8 532.8,185.8 521.5,186.2 514.5,183.8 506.5,178.5 497.5,169.5 489.8,159.2 496.8,136.5 502.2,123.8 505.2,120.8Z"/>
<path fill-rule="evenodd" fill="#ff8f00" d="M505.2,120.8 515.2,123.5 525.2,127.5 534.2,131.8 542.5,136.8 551.2,144.8 556.5,153.2 562.8,159.8 574.8,176.2 578.8,180.8 577.8,181.8 577.2,181.8 567.5,179.8 554.2,179.5 542.8,183.8 532.8,185.8 521.5,186.2 514.5,183.8 506.5,178.5 497.5,169.5 489.8,159.2 496.8,136.5 502.2,123.8 505.2,120.8Z"/>
<path fill-rule="evenodd" fill="#ffaf00" d="M505.2,120.8 515.2,123.5 525.2,127.5 534.2,131.8 542.5,136.8 551.2,144.8 556.5,153.2 562.8,159.8 574.8,176.2 578.8,180.8 577.8,181.8 577.2,181.8 567.5,179.8 554.2,179.5 542.8,183.8 532.8,185.8 521.5,186.2 514.5,183.8 506.5,178.5 497.5,169.5 489.8,159.2 496.8,136.5 502.2,123.8 505.2,120.8Z"/>
<path fill-rule="evenodd" fill="#ffcf00" d="M505.2,120.8 515.2,123.5 525.2,127.5 534.2,131.8 542.5,136.8 551.2,144.8 556.5,153.2 562.8,159.8 574.8,176.2 578.8,180.8 577.8,181.8 577.2,181.8 567.5,179.8 554.2,179.5 542.8,183.8 532.8,185.8 521.5,186.2 514.5,183.8 506.5,178.5 497.5,169.5 489.8,159.2 496.8,136.5 502.2,123.8 505.2,120.8Z"/>
<path fill-rule="evenodd" fill="#ffef00" d="M505.2,120.8 515.2,123.5 525.2,127.5 534.2,131.8 542.5,136.8 551.2,144.8 556.5,153.2 562.8,159.8 574.8,176.2 578.8,180.8 577.8,181.8 577.2,181.8 567.5,179.8 554.2,179.5 542.8,183.8 532.8,185.8 521.5,186.2 514.5,183.8 506.5,178.5 497.5,169.5 489.8,159.2 496.8,136.5 502.2,123.8 505.2,120.8Z"/>
<path fill-rule="evenodd" fill="#efff00" d="M505.2,120.8 515.2,123.5 525.2,127.5 534.2,131.8 542.5,136.8 551.2,144.8 556.5,153.2 562.8,159.8 574.8,176.2 578.8,180.8 577.8,181.8 577.2,181.8 567.5,179.8 554.2,179.5 542.8,183.8 532.8,185.8 521.5,186.2 514.5,183.8 506.5,178.5 497.5,169.5 489.8,159.2 496.8,136.5 502.2,123.8 505.2,120.8Z"/>
<path fill-rule="evenodd" fill="#cfff00" d="M505.2,120.8 515.2,123.5 525.2,127.5 534.2,131.8 542.5,136.8 551.2,144.8 556.5,153.2 562.8,159.8 574.8,176.2 578.8,180.8 577.8,181.8 577.2,181.8 567.5,179.8 554.2,179.5 542.8,183.8 532.8,185.8 521.5,186.2 514.5,183.8 506.5,178.5 497.5,169.5 489.8,159.2 496.8,136.5 502.2,123.8 505.2,120.8Z"/>
<path fill-rule="evenodd" fill="#afff00" d="M505.2,120.8 515.2,123.5 525.2,127.5 534.2,131.8 542.5,136.8 551.2,144.8 556.5,153.2 562.8,159.8 574.8,176.2 578.8,180.8 577.8,181.8 577.2,181.8 567.5,179.8 554.2,179.5 542.8,183.8 532.8,185.8 521.5,186.2 514.5,183.8 506.5,178.5 497.5,169.5 489.8,159.2 496.8,136.5 502.2,123.8 505.2,120.8Z"/>
<path fill-rule="evenodd" fill="#8fff00" d="M505.2,120.8 515.2,123.5 525.2,127.5 534.2,131.8 542.5,136.8 551.2,144.8 556.5,153.2 562.8,159.8 574.8,176.2 578.8,180.8 577.8,181.8 577.2,181.8 567.5,179.8 554.2,179.5 542.8,183.8 532.8,185.8 521.5,186.2 514.5,183.8 506.5,178.5 497.5,169.5 489.8,159.2 496.8,136.5 502.2,123.8 505.2,120.8Z"/>
<path fill-rule="evenodd" fill="#70ff00" d="M505.2,120.8 515.2,123.5 525.2,127.5 534.2,131.8 542.5,136.8 551.2,144.8 556.5,153.2 562.8,159.8 574.8,176.2 578.8,180.8 577.8,181.8 577.2,181.8 567.5,179.8 554.2,179.5 542.8,183.8 532.8,185.8 521.5,186.2 514.5,183.8 506.5,178.5 497.5,169.5 489.8,159.2 496.8,136.5 502.2,123.8 505.2,120.8Z"/>
<path fill-rule="evenodd" fill="#50ff00" d="M505.2,120.8 515.2,123.5 525.2,127.5 534.2,131.8 542.5,136.8 551.2,144.8 556.5,153.2 562.8,159.8 574.8,176.2 578.8,180.8 577.8,181.8 577.2,181.8 567.5,179.8 554.2,179.5 542.8,183.8 532.8,185.8 521.5,186.2 514.5,183.8 506.5,178.5 497.5,169.5 489.8,159.2 496.8,136.5 502.2,123.8 505.2,120.8Z"/>
<path fill-rule="evenodd" fill="#30ff00" d="M505.2,120.8 515.2,123.5 525.2,127.5 534.2,131.8 542.5,136.8 551.2,144.8 556.5,153.2 562.8,159.8 574.8,176.2 578.8,180.8 577.8,181.8 577.2,181.8 567.5,179.8 554.2,179.5 542.8,183.8 532.8,185.8 521.5,186.2 514.5,183.8 506.5,178.5 497.5,169.5 489.8,159.2 496.8,136.5 502.2,123.8 505.2,120.8Z"/>
<path fill-rule="evenodd" fill="#10ff00" d="M505.2,120.8 515.2,123.5 525.2,127.5 534.2,131.8 542.5,136.8 551.2,144.8 556.5,153.2 562.8,159.8 574.8,176.2 578.8,180.8 577.8,181.8 577.2,181.8 567.5,179.8 554.2,179.5 542.8,183.8 532.8,185.8 521.5,186.2 514.5,183.8 506.5,178.5 497.5,169.5 489.8,159.2 496.8,136.5 502.2,123.8 505.2,120.8Z"/>
<path fill-rule="evenodd" fill="#00ff10" d="M505.2,120.8 515.2,123.5 525.2,127.5 534.2,131.8 542.5,136.8 551.2,144.8 556.5,153.2 562.8,159.8 574.8,176.2 578.8,180.8 577.8,181.8 577.2,181.8 567.5,179.8 554.2,179.5 542.8,183.8 532.8,185.8 521.5,186.2 514.5,183.8 506.5,178.5 497.5,169.5 489.8,159.2 496.8,136.5 502.2,123.8 505.2,120.8Z"/>
<path fill-rule="evenodd" fill="#00ff30" d="M505.2,120.8 515.2,123.5 525.2,127.5 534.2,131.8 542.5,136.8 551.2,144.8 556.5,153.2 562.8,159.8 574.8,176.2 578.8,180.8 577.8,181.8 577.2,181.8 567.5,179.8 554.2,179.5 542.8,183.8 532.8,185.8 521.5,186.2 514.5,183.8 506.5,178.5 497.5,169.5 489.8,159.2 496.8,136.5 502.2,123.8 505.2,120.8Z"/>
<path fill-rule="evenodd" fill="#00ff50" d="M505.2,120.8 515.2,123.5 525.2,127.5 534.2,131.8 542.5,136.8 551.2,144.8 556.5,153.2 562.8,159.8 574.8,176.2 578.8,180.8 577.8,181.8 577.2,181.8 567.5,179.8 554.2,179.5 542.8,183.8 532.8,185.8 521.5,186.2 514.5,183.8 506.5,178.5 497.5,169.5 489.8,159.2 496.8,136.5 502.2,123.8 505.2,120.8Z"/>
<path fill-rule="evenodd" fill="#00ff70" d="M505.2,120.8 515.2,123.5 525.2,127.5 534.2,131.8 542.5,136.8 551.2,144.8 556.5,153.2 562.8,159.8 574.8,176.2 578.8,180.8 577.8,181.8 577.2,181.8 567.5,179.8 554.2,179.5 542.8,183.8 532.8,185.8 521.5,186.2 514.5,183.8 506.5,178.5 497.5,169.5 489.8,159.2 496.8,136.5 502.2,123.8 505.2,120.8Z"/>
<path fill-rule="evenodd" fill="#00ff8f" d="M505.2,120.8 515.2,123.5 525.2,127.5 534.2,131.8 542.5,136.8 546.4,141.2 549.5,143.2 551.2,144.8 556.5,153.2 562.8,159.8 565.6,163.6 569.9,171.5 577.1,181.8 567.5,179.8 554.2,179.5 542.8,183.8 532.8,185.8 521.5,186.2 514.5,183.8 506.5,178.5 497.5,169.5 489.8,159.2 496.8,136.5 502.2,123.8 505.2,120.8Z"/>
<path fill-rule="evenodd" fill="#00ffaf" d="M505.2,120.8 514.2,123.2 522.8,126.5 534.2,131.8 541.8,136.5 545.5,142.3 551.2,144.8 556.5,153.2 561.3,158.3 566.3,168.8 574.3,181.2 567.5,179.8 554.2,179.5 542.8,183.8 532.8,185.8 521.5,186.2 514.5,183.8 506.5,178.5 497.5,169.5 489.8,159.2 496.8,136.5 502.2,123.8 505.2,120.8Z"/>
<path fill-rule="evenodd" fill="#00ffcf" d="M505.2,120.8 515.2,123.5 530.8,130.2 537.3,133.8 539.8,135.8 541.7,138.2 544.8,143.6 552.5,146.8 556.5,153.2 557.8,154.5 563.7,167.5 571.8,180.8 567.5,179.8 554.2,179.5 542.8,183.8 532.8,185.8 521.5,186.2 514.5,183.8 506.5,178.5 497.5,169.5 489.8,159.2 496.8,136.5 502.2,123.8 505.2,120.8Z"/>
<path fill-rule="evenodd" fill="#00ffef" d="M505.2,120.8 515.2,123.5 527.2,128.5 530.7,131.8 536.2,134.4 539.2,136.6 541.0,138.8 542.8,143.2 543.9,144.5 550.2,146.9 552.5,148.5 554.6,151.5 557.7,159.5 561.7,167.5 569.0,180.2 561.8,179.8 561.5,179.5 554.2,179.5 542.8,183.8 532.8,185.8 521.5,186.2 514.5,183.8 506.5,178.5 497.5,169.5 489.8,159.2 496.8,136.5 502.2,123.8 505.2,120.8Z"/>
<path fill-rule="evenodd" fill="#00efff" d="M505.2,120.8 515.2,123.5 524.8,127.5 529.8,132.8 535.8,135.4 538.5,137.3 540.0,139.2 541.8,143.8 543.1,145.5 549.2,147.9 551.0,149.2 552.8,151.8 555.9,160.5 566.2,179.8 554.2,179.5 542.8,183.8 532.8,185.8 521.5,186.2 514.5,183.8 506.5,178.5 497.5,169.5 489.8,159.2 496.8,136.5 502.2,123.8 505.2,120.8Z"/>
<path fill-rule="evenodd" fill="#00cfff" d="M505.2,120.8 514.2,123.2 521.5,126.2 529.2,133.8 535.5,136.4 537.9,138.2 539.2,139.9 540.6,144.2 541.7,145.8 543.8,147.3 548.3,149.2 550.2,151.0 552.3,158.2 556.1,165.8 560.0,175.5 562.5,179.8 554.2,179.5 542.8,183.8 532.8,185.8 521.5,186.2 514.5,183.8 506.5,178.5 497.5,169.5 490.5,160.2 489.8,158.5 497.5,134.8 502.2,123.8 505.2,120.8Z"/>
<path fill-rule="evenodd" fill="#00afff" d="M505.2,120.8 510.5,122.2 518.2,125.6 523.2,129.1 528.8,135.0 534.8,137.3 537.2,139.2 540.3,146.2 542.2,147.8 546.5,150.2 548.0,151.8 549.3,157.8 553.1,166.2 554.3,176.8 555.6,179.5 554.2,179.5 549.2,181.2 542.8,183.8 532.8,185.8 521.5,186.2 514.5,183.8 506.5,178.5 497.5,169.5 490.5,160.2 489.8,158.5 497.5,134.8 502.2,123.8 505.2,120.8Z"/>
<path fill-rule="evenodd" fill="#008fff" d="M504.8,121.5 519.5,128.1 523.2,130.7 528.5,136.3 535.2,139.1 536.6,140.8 538.9,146.5 545.0,151.8 545.7,153.5 546.4,159.2 548.9,167.2 548.5,172.2 546.7,178.8 546.8,180.5 547.6,181.8 547.2,182.2 542.8,183.8 532.8,185.8 527.2,185.8 526.8,186.2 521.5,186.2 514.5,183.8 506.5,178.5 497.5,169.5 490.5,160.2 489.8,158.5 496.8,136.5 502.2,123.8 504.8,121.5Z"/>
<path fill-rule="evenodd" fill="#0070ff" d="M503.2,123.0 505.8,123.9 511.2,126.6 517.8,129.0 521.8,131.3 527.8,137.7 534.2,140.9 537.2,146.8 542.4,152.5 542.8,154.5 542.5,159.5 543.2,165.8 543.0,168.8 540.2,174.9 534.4,182.5 534.1,183.8 534.5,185.5 521.5,186.2 514.5,183.8 506.5,178.5 500.8,172.8 497.5,169.5 489.8,159.2 496.8,136.5 501.8,124.5 503.2,123.0Z"/>
<path fill-rule="evenodd" fill="#0050ff" d="M502.2,125.0 504.8,125.6 510.8,128.9 518.8,131.8 521.4,133.2 526.8,139.5 532.4,143.5 538.8,152.5 538.8,154.5 537.5,158.5 536.8,163.5 535.8,165.8 532.2,169.6 522.8,176.5 520.8,178.9 520.2,182.2 521.6,186.2 514.5,183.8 506.5,178.5 497.5,169.5 489.8,159.2 496.8,136.5 500.8,126.8 502.2,125.0Z"/>
<path fill-rule="evenodd" fill="#0030ff" d="M501.2,127.8 504.5,128.2 513.2,133.6 520.5,136.7 529.5,147.2 531.7,151.5 531.2,155.1 528.8,159.2 515.4,171.5 513.5,173.8 512.5,177.8 513.3,183.0 506.5,178.5 497.5,169.5 489.8,159.2 496.8,136.5 500.2,128.5 501.2,127.8Z"/>
<path fill-rule="evenodd" fill="#0010ff" d="M501.5,133.1 503.2,132.9 505.2,133.6 515.6,141.2 518.6,145.8 520.7,152.2 520.4,155.2 518.6,158.2 514.6,162.2 508.5,166.9 506.7,169.2 506.2,172.2 507.5,179.2 497.5,169.5 489.8,159.2 496.8,136.5 497.2,135.8 501.5,133.1Z"/>
<path fill-rule="evenodd" fill="#1000ff" d="M494.8,143.4 496.0,149.2 496.8,151.2 498.5,152.9 504.2,156.7 505.9,159.2 505.5,161.8 501.8,168.5 501.5,170.8 501.8,173.8 497.5,169.5 489.8,159.2 493.2,147.5 494.8,143.4Z"/>
<path fill-rule="evenodd" fill="#3000ff" d="M492.5,150.2 493.8,154.4 498.7,158.5 499.9,160.5 499.8,162.5 497.4,169.0 489.8,159.2 492.5,150.2Z"/>
<path fill-rule="evenodd" fill="#5000ff" d="M490.6,157.2 492.6,161.2 492.9,163.3 489.8,159.2 490.6,157.2Z"/></g></g><path d="M514.3,182.8 L506.4,177.5 L498.5,169.6 L490.6,159.0 L482.6,148.5 L477.0,141.0 L472.5,135.5 L466.0,131.5 L460.4,129.5 L448.3,125.0 L439.3,121.9 L434.0,118.5 L430.2,114.4 L425.0,108.0 L421.0,102.3 L417.5,95.5 L415.0,90.2" fill="none" stroke="#8a00ff" stroke-width="1.8" stroke-opacity="0.75" filter="url(#sb)"/></g>
<path d="M453.2,111.3 L443.7,125.7 L462.7,125.7Z" fill="#e8281a" fill-opacity="0.3"/>
<rect x="441" y="44" width="26" height="17.5" fill="#fff" fill-opacity="0.62"/>
<path d="M448.9,61.5 L457.5,61.5 L457.5,94.8 L465.9,94.8 L453.2,111.3 L440.4,94.8 L448.9,94.8Z" fill="#e8281a" stroke="#c01a10" stroke-width="0.4"/>
<text x="442.6" y="56.4" class="sf" font-size="16.6" font-weight="bold" font-style="italic" fill="#e52418">rM</text>
<path d="M557.7,129.6 L548.7,143.8 L566.7,143.8Z" fill="#1a6a10" fill-opacity="0.42"/>
<rect x="540" y="57.5" width="35" height="21.799999999999997" fill="#fff" fill-opacity="0.62"/>
<path d="M553.6,79.3 L561.8,79.3 L561.8,111.5 L571.0,111.5 L557.7,129.6 L544.5,111.5 L553.6,111.5Z" fill="#22a01c" stroke="#16801a" stroke-width="0.4"/>
<text x="544.3" y="73.8" class="sf" font-size="15.5" font-weight="bold" font-style="italic" fill="#137a13">mM</text>
<path d="M633.9,201.6 L622.6,218.4 L645.1,218.4Z" fill="#1f40f8" fill-opacity="0.2"/>
<rect x="623" y="130.5" width="26" height="20.099999999999994" fill="#fff" fill-opacity="0.62"/>
<path d="M629.7,150.6 L638.1,150.6 L638.1,183.6 L647.1,183.6 L633.9,201.6 L620.6,183.6 L629.7,183.6Z" fill="#1f40f8" stroke="#1430c0" stroke-width="0.4"/>
<text x="624.5" y="143.8" class="sf" font-size="15.5" font-weight="bold" font-style="italic" fill="#1a3ae8">mI</text>
<text x="361.5" y="22.4" font-size="22" font-weight="bold">b)</text>
<path transform="translate(502.20,10.50) scale(0.6720,0.7600) translate(-175.1,-251.7)" d="M175.3,257.2 C175.6,254.5 177.0,252.6 179.5,252.3 L186.6,251.8 C187.4,251.8 187.6,252.4 187.4,253.2 L187.0,254.8 C186.9,255.4 186.5,255.6 185.9,255.6 L184.0,255.6 L182.3,261.0 C182.1,261.8 182.3,262.2 182.9,262.2 C183.6,262.2 184.2,261.7 184.7,261.0 L185.3,261.4 C184.4,263.2 183.0,264.2 181.3,264.2 C179.4,264.2 178.4,263.2 178.8,261.6 L180.6,255.6 L179.6,255.6 C177.8,255.6 176.6,256.2 175.9,257.6 Z" fill="#000"/>
<rect x="518" y="11.4" width="11.6" height="2.2" fill="#000"/><rect x="518" y="16.1" width="11.6" height="2.2" fill="#000"/>
<text x="536.8" y="20.1" class="sf" font-size="20.6" font-weight="bold">10</text>
<text x="379.3" y="48.1" class="sf" font-size="16.4" font-weight="bold" font-style="italic">E</text>
<text x="390.4" y="48.1" class="sf" font-size="16.4" font-weight="bold">[</text>
<text x="396.6" y="48.1" class="sf" font-size="16.4" font-weight="bold" font-style="italic">ϵ</text>
<text x="402.6" y="52.1" class="sf" font-size="12" font-weight="bold">2</text>
<text x="408.3" y="48.1" class="sf" font-size="16.4" font-weight="bold">,</text>
<text x="416.4" y="48.1" class="sf" font-size="16.4" font-weight="bold" font-style="italic">η</text>
<text x="425.2" y="48.1" class="sf" font-size="16.4" font-weight="bold">]</text>
<text x="583.8" y="256" class="sf" font-size="23.5" font-weight="bold" font-style="italic">ϵ</text>
<text x="593.6" y="261.3" class="sf" font-size="16.6" font-weight="bold">2</text>
<text x="414.5" y="228.2" class="sf" font-size="21.5" font-weight="bold" font-style="italic">η</text>
</svg></body></html>
